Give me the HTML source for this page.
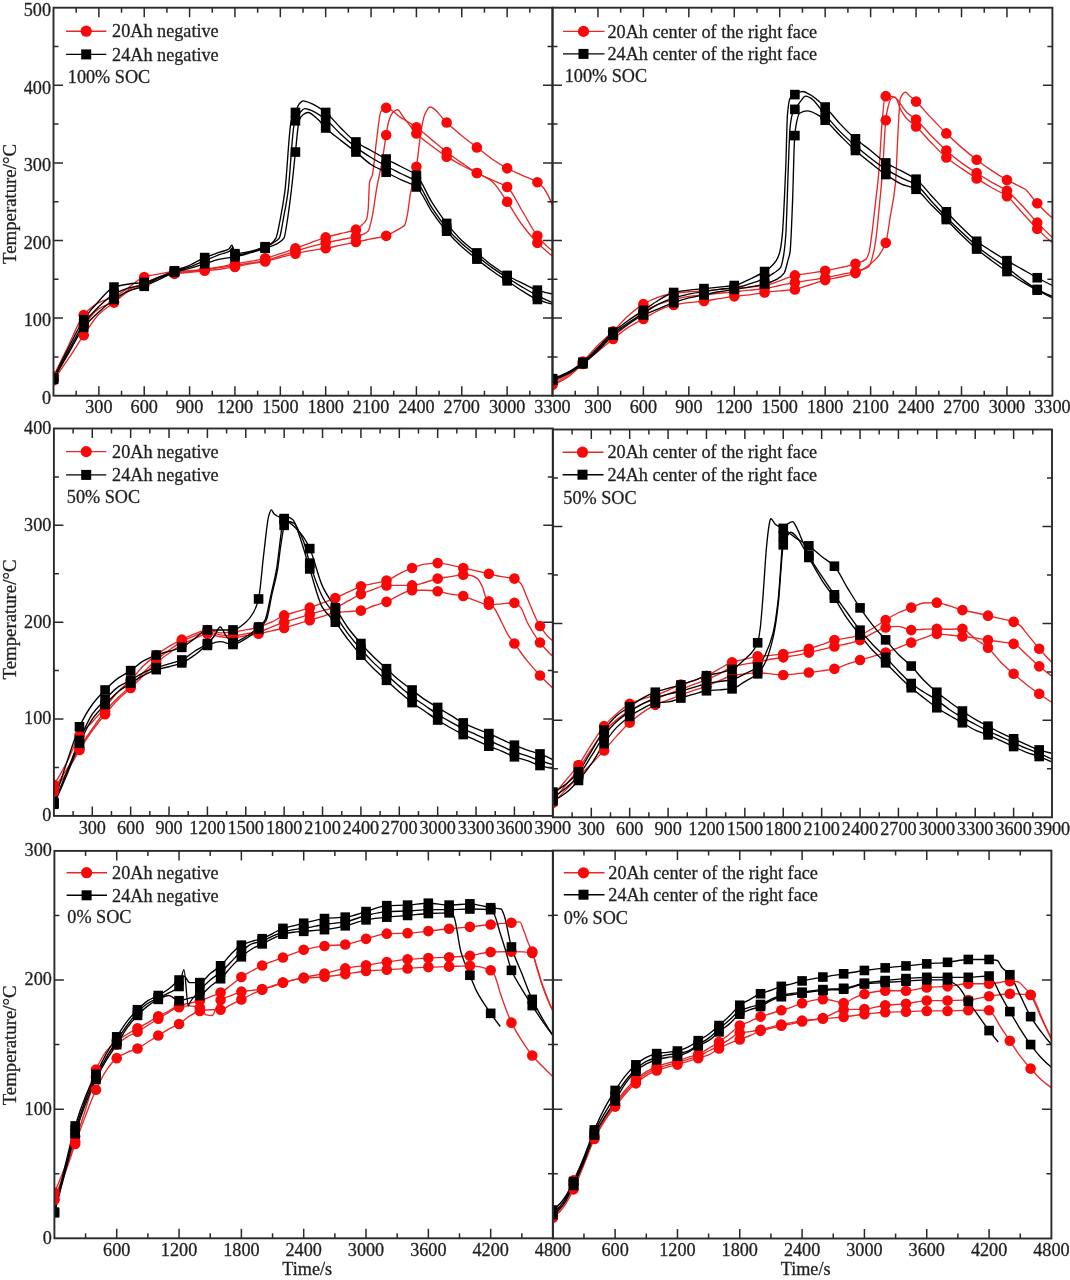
<!DOCTYPE html>
<html><head><meta charset="utf-8"><title>Temperature curves</title>
<style>
html,body{margin:0;padding:0;background:#fff;}
body{width:1070px;height:1280px;overflow:hidden;}
svg{display:block;will-change:transform;}
text{font-family:"Liberation Serif", serif;font-size:18.2px;fill:#1e1e1e;stroke:#2a2a2a;stroke-width:0.3px;}
</style></head><body>
<svg width="1070" height="1280" viewBox="0 0 1070 1280">
<rect width="1070" height="1280" fill="#fff"/>
<clipPath id="cP1"><rect x="53.5" y="7.7" width="499" height="388"/></clipPath>
<g clip-path="url(#cP1)">
<path d="M53.5 376.3C58.54 365.82 63.58 355.48 68.62 345.26C73.66 335.04 78.7 320.87 83.74 315C88.78 309.13 93.82 305.1 98.86 302.58C103.9 300.06 108.94 299.5 113.98 297.15C119.03 294.79 124.07 290.42 129.11 287.06C134.15 283.7 139.19 278.55 144.23 276.97C149.27 275.39 154.31 274.75 159.35 273.87C164.39 272.98 169.43 271.93 174.47 271.54C179.51 271.15 184.55 271.11 189.59 270.76C194.63 270.42 199.67 269.83 204.71 269.21C209.75 268.59 214.79 267.77 219.83 266.88C224.87 266 229.91 264.67 234.95 263.78C239.99 262.89 245.04 262.34 250.08 261.45C255.12 260.57 260.16 259.59 265.2 258.35C270.24 257.11 275.28 255.36 280.32 253.69C285.36 252.02 290.4 250.07 295.44 248.26C300.48 246.45 305.52 244.64 310.56 242.83C315.6 241.02 320.64 238.9 325.68 237.4C330.72 235.89 335.76 234.81 340.8 233.52C345.84 232.22 350.88 231.73 355.92 229.64C357.94 228.8 359.96 226.89 361.97 224.98C363.48 223.55 365 222.92 366.51 219.55C367.06 218.31 367.62 214.71 368.17 209.46C368.63 205.16 369.08 184.56 369.53 182.3C370.44 177.79 371.35 178.72 372.26 175.32C373.72 169.84 375.18 150.27 376.64 139.62C378.05 129.34 379.46 113.6 380.87 111.68C382.64 109.28 384.4 107.8 386.17 107.8C391.21 107.8 396.25 114.66 401.29 117.89C406.33 121.12 411.37 123.66 416.41 127.2C421.45 130.75 426.49 135.48 431.53 139.62C436.57 143.76 441.61 148.17 446.65 152.04C451.69 155.9 456.73 159.41 461.77 162.9C466.81 166.39 471.85 170.24 476.89 172.99C481.93 175.74 486.97 177.64 492.02 179.97C497.06 182.3 502.1 183.35 507.14 186.96C512.18 190.56 517.22 202.87 522.26 211.01C527.3 219.16 532.34 229.68 537.38 235.84C542.42 242.01 547.46 247.35 552.5 250.59" fill="none" stroke="#e62828" stroke-width="1.35" stroke-linejoin="round"/>
<path d="M53.5 378.63C58.54 370.35 63.58 361.81 68.62 353.02C73.66 344.23 78.7 332.85 83.74 325.86C88.78 318.87 93.82 312.09 98.86 308.79C103.9 305.48 108.94 304.78 113.98 301.8C119.03 298.82 124.07 292.15 129.11 289.39C134.15 286.63 139.19 285.25 144.23 283.18C149.27 281.11 154.31 278.56 159.35 276.97C164.39 275.38 169.43 273.83 174.47 273.09C179.51 272.35 184.55 272.06 189.59 271.54C194.63 271.02 199.67 270.61 204.71 269.99C209.75 269.37 214.79 268.44 219.83 267.66C224.87 266.88 229.91 266.11 234.95 265.33C239.99 264.56 245.04 263.78 250.08 263C255.12 262.23 260.16 261.71 265.2 260.68C270.24 259.64 275.28 257.57 280.32 256.02C285.36 254.47 290.4 252.92 295.44 251.36C300.48 249.81 305.52 248.12 310.56 246.71C315.6 245.3 320.64 243.98 325.68 242.83C330.72 241.68 335.76 240.76 340.8 239.72C345.84 238.69 350.88 238.06 355.92 236.62C359.96 235.47 363.99 234.85 368.02 231.19C369.43 229.91 370.84 222.79 372.26 216.44C373.72 209.87 375.18 196.73 376.64 188.51C378.51 178.02 380.37 171.2 382.24 160.57C383.55 153.11 384.86 142.7 386.17 134.96C386.92 130.5 387.68 125.2 388.43 122.55C389.69 118.13 390.96 114.57 392.22 113.24C394.03 111.32 395.84 109.74 397.66 109.74C399.37 109.74 401.09 114.16 402.8 116.34C407.34 122.1 411.87 128.89 416.41 133.41C421.45 138.43 426.49 141.97 431.53 145.83C436.57 149.69 441.61 153.51 446.65 156.69C451.69 159.88 456.73 162.52 461.77 165.23C466.81 167.94 471.85 170.28 476.89 172.99C481.93 175.7 486.97 177.53 492.02 181.52C497.06 185.52 502.1 194.49 507.14 201.7C512.18 208.91 517.22 218.24 522.26 224.98C527.3 231.72 532.34 237.77 537.38 242.83C542.42 247.88 547.46 252.4 552.5 256.02" fill="none" stroke="#e62828" stroke-width="1.35" stroke-linejoin="round"/>
<path d="M53.5 380.18C58.54 373.2 63.58 365.94 68.62 358.45C73.66 350.96 78.7 342.52 83.74 335.17C88.78 327.82 93.82 319.21 98.86 314.22C103.9 309.23 108.94 306.46 113.98 302.58C119.03 298.7 124.07 293.64 129.11 290.94C134.15 288.24 139.19 286.92 144.23 284.73C149.27 282.54 154.31 279.41 159.35 277.75C164.39 276.09 169.43 274.61 174.47 273.87C179.51 273.13 184.55 272.83 189.59 272.32C194.63 271.8 199.67 271.28 204.71 270.76C209.75 270.25 214.79 269.83 219.83 269.21C224.87 268.59 229.91 267.77 234.95 266.88C239.99 266 245.04 264.67 250.08 263.78C255.12 262.89 260.16 262.42 265.2 261.45C270.24 260.48 275.28 258.87 280.32 257.57C285.36 256.28 290.4 254.84 295.44 253.69C300.48 252.54 305.52 251.47 310.56 250.59C315.6 249.7 320.64 249.15 325.68 248.26C330.72 247.37 335.76 246.19 340.8 245.16C345.84 244.12 350.88 243.09 355.92 242.05C360.96 241.02 366.01 239.98 371.05 238.95C376.09 237.91 381.13 237.4 386.17 235.84C388.69 235.07 391.21 233.33 393.73 231.96C396 230.74 398.26 229.55 400.53 228.08C401.94 227.17 403.35 226.82 404.77 224.98C405.67 223.8 406.58 218.72 407.49 214.12C408.45 209.25 409.4 199.23 410.36 193.94C411.27 188.93 412.18 185.6 413.08 181.52C414.19 176.54 415.3 172.93 416.41 166.78C417.92 158.39 419.43 140.58 420.95 131.86C422.1 125.18 423.26 118.34 424.42 115.56C426.29 111.09 428.15 107.03 430.02 107.03C435.56 107.03 441.11 117.55 446.65 122.55C451.69 127.09 456.73 131.62 461.77 135.74C466.81 139.86 471.85 143.5 476.89 147.38C481.93 151.26 486.97 155.57 492.02 159.02C497.06 162.47 502.1 165.67 507.14 168.33C512.18 170.99 517.22 172.99 522.26 175.32C527.3 177.64 532.34 179.08 537.38 182.3C539.39 183.59 541.41 185.31 543.43 187.73C546.45 191.37 549.48 197.69 552.5 205.58" fill="none" stroke="#e62828" stroke-width="1.35" stroke-linejoin="round"/>
<path d="M53.5 377.85C58.54 367.38 63.58 357.27 68.62 347.59C73.66 337.9 78.7 327.1 83.74 319.65C88.78 312.2 93.82 306.35 98.86 301.03C103.9 295.71 108.94 288.75 113.98 287.06C119.03 285.37 124.07 284.65 129.11 283.96C134.15 283.27 139.19 283.21 144.23 282.4C149.27 281.6 154.31 278.9 159.35 276.97C164.39 275.04 169.43 272.7 174.47 270.76C179.51 268.83 184.55 267.46 189.59 265.33C194.63 263.2 199.67 259.7 204.71 257.57C209.75 255.44 214.79 253.9 219.83 252.14C222.86 251.08 225.88 250.84 228.91 249.04C229.91 248.43 230.92 245.16 231.93 245.16C232.94 245.16 233.95 253.69 234.95 253.69C239.99 253.69 245.04 252.4 250.08 251.36C255.12 250.33 260.16 248.72 265.2 246.71C267.21 245.9 269.23 245.06 271.25 243.6C272.81 242.47 274.37 241.06 275.93 238.17C277.39 235.47 278.86 226.2 280.32 218.77C281.83 211.08 283.34 203.19 284.85 191.61C286.97 175.41 289.09 127.9 291.21 121C292.62 116.39 294.03 115.47 295.44 112.46C296.7 109.77 297.96 105.4 299.22 103.92C300.53 102.39 301.84 100.82 303.15 100.82C305.62 100.82 308.09 102.16 310.56 103.15C315.6 105.17 320.64 108.58 325.68 112.46C330.72 116.34 335.76 123.08 340.8 127.98C345.84 132.88 350.88 138.42 355.92 141.95C360.96 145.48 366.01 147.64 371.05 150.48C376.09 153.33 381.13 156.31 386.17 159.02C391.21 161.73 396.25 164.07 401.29 166.78C406.33 169.49 411.37 171.02 416.41 175.32C421.45 179.62 426.49 193.76 431.53 201.7C436.57 209.64 441.61 217.05 446.65 223.43C451.69 229.8 456.73 235.71 461.77 240.5C466.81 245.29 471.85 248.78 476.89 252.92C481.93 257.05 486.97 261.62 492.02 265.33C497.06 269.04 502.1 272.5 507.14 275.42C512.18 278.34 517.22 280.73 522.26 283.18C527.3 285.63 532.34 288.5 537.38 290.16C542.42 291.83 547.46 293.27 552.5 294.04" fill="none" stroke="#000000" stroke-width="1.35" stroke-linejoin="round"/>
<path d="M53.5 378.63C58.54 369.19 63.58 359.87 68.62 350.69C73.66 341.51 78.7 330.52 83.74 323.53C88.78 316.54 93.82 311.25 98.86 306.46C103.9 301.67 108.94 296.8 113.98 294.04C119.03 291.28 124.07 289.22 129.11 287.84C134.15 286.46 139.19 286.16 144.23 284.73C149.27 283.3 154.31 279.94 159.35 277.75C164.39 275.56 169.43 273.31 174.47 271.54C179.51 269.77 184.55 268.66 189.59 266.88C194.63 265.11 199.67 262.75 204.71 260.68C209.75 258.61 214.79 256.41 219.83 254.47C223.36 253.11 226.89 252.92 230.42 250.59C231.17 250.09 231.93 247.48 232.69 247.48C233.44 247.48 234.2 255.24 234.95 255.24C239.99 255.24 245.04 253.38 250.08 252.14C255.12 250.9 260.16 249.59 265.2 247.48C268.22 246.22 271.25 244.12 274.27 242.05C275.93 240.91 277.6 240.45 279.26 238.17C280.62 236.31 281.98 225.86 283.34 218.77C284.9 210.63 286.47 203.27 288.03 191.61C290.1 176.2 292.16 131.28 294.23 124.1C295.14 120.95 296.04 119.64 296.95 117.89C298.21 115.46 299.47 113.03 300.73 111.68C302.04 110.28 303.35 108.58 304.66 108.58C306.63 108.58 308.59 109.45 310.56 110.13C315.6 111.89 320.64 115.64 325.68 119.44C330.72 123.25 335.76 129.55 340.8 134.19C345.84 138.83 350.88 143.57 355.92 147.38C360.96 151.19 366.01 154.39 371.05 157.47C376.09 160.55 381.13 163.29 386.17 166C391.21 168.71 396.25 171.18 401.29 173.76C406.33 176.35 411.37 177.55 416.41 181.52C421.45 185.49 426.49 199.45 431.53 207.13C436.57 214.81 441.61 222.14 446.65 228.08C451.69 234.03 456.73 239.01 461.77 243.6C466.81 248.2 471.85 252.01 476.89 256.02C481.93 260.03 486.97 264.06 492.02 267.66C497.06 271.26 502.1 274.52 507.14 277.75C512.18 280.98 517.22 284.09 522.26 287.06C527.3 290.03 532.34 293.04 537.38 295.6C542.42 298.16 547.46 300.51 552.5 302.58" fill="none" stroke="#000000" stroke-width="1.35" stroke-linejoin="round"/>
<path d="M53.5 379.4C58.54 370.48 63.58 361.68 68.62 353.02C73.66 344.36 78.7 333.85 83.74 327.41C88.78 320.97 93.82 316.49 98.86 311.89C103.9 307.29 108.94 302.85 113.98 299.48C119.03 296.1 124.07 292.95 129.11 290.94C134.15 288.93 139.19 288.15 144.23 286.28C149.27 284.42 154.31 281.63 159.35 279.3C164.39 276.97 169.43 273.98 174.47 272.32C179.51 270.65 184.55 269.85 189.59 268.44C194.63 267.03 199.67 265.33 204.71 263.78C209.75 262.23 214.79 260.16 219.83 259.12C224.87 258.09 229.91 257.77 234.95 256.8C239.99 255.83 245.04 254.33 250.08 252.92C255.12 251.51 260.16 249.99 265.2 248.26C269.23 246.87 273.26 245.79 277.29 243.6C279.51 242.4 281.73 241.56 283.95 238.17C285.16 236.33 286.37 226.32 287.58 218.77C288.79 211.23 290 201.64 291.21 191.61C292.62 179.91 294.03 164.63 295.44 152.04C296.65 141.24 297.86 124.25 299.07 121C300.38 117.47 301.69 115.77 303 114.79C304.61 113.58 306.23 112.46 307.84 112.46C311.27 112.46 314.69 116.5 318.12 119.44C320.64 121.61 323.16 125.54 325.68 127.98C330.72 132.86 335.76 136.39 340.8 140.4C345.84 144.4 350.88 148.03 355.92 152.04C360.96 156.04 366.01 161.27 371.05 164.45C376.09 167.64 381.13 169.63 386.17 172.21C391.21 174.8 396.25 177.52 401.29 179.97C406.33 182.42 411.37 183.35 416.41 186.96C421.45 190.56 426.49 203.7 431.53 211.01C436.57 218.33 441.61 225.34 446.65 231.19C451.69 237.04 456.73 242.11 461.77 246.71C466.81 251.31 471.85 255.12 476.89 259.12C481.93 263.13 486.97 267.16 492.02 270.76C497.06 274.37 502.1 277.49 507.14 280.85C512.18 284.21 517.22 287.86 522.26 290.94C527.3 294.02 532.34 297.47 537.38 299.48C542.42 301.48 547.46 303.23 552.5 304.13" fill="none" stroke="#000000" stroke-width="1.35" stroke-linejoin="round"/>
<circle cx="53.5" cy="376.3" r="5.3" fill="#f80808"/>
<circle cx="83.74" cy="315" r="5.3" fill="#f80808"/>
<circle cx="113.98" cy="297.15" r="5.3" fill="#f80808"/>
<circle cx="144.23" cy="276.97" r="5.3" fill="#f80808"/>
<circle cx="174.47" cy="271.54" r="5.3" fill="#f80808"/>
<circle cx="204.71" cy="269.21" r="5.3" fill="#f80808"/>
<circle cx="234.95" cy="263.78" r="5.3" fill="#f80808"/>
<circle cx="265.2" cy="258.35" r="5.3" fill="#f80808"/>
<circle cx="295.44" cy="248.26" r="5.3" fill="#f80808"/>
<circle cx="325.68" cy="237.4" r="5.3" fill="#f80808"/>
<circle cx="355.92" cy="229.64" r="5.3" fill="#f80808"/>
<circle cx="386.17" cy="107.8" r="5.3" fill="#f80808"/>
<circle cx="416.41" cy="127.2" r="5.3" fill="#f80808"/>
<circle cx="446.65" cy="152.04" r="5.3" fill="#f80808"/>
<circle cx="476.89" cy="172.99" r="5.3" fill="#f80808"/>
<circle cx="507.14" cy="186.96" r="5.3" fill="#f80808"/>
<circle cx="537.38" cy="235.84" r="5.3" fill="#f80808"/>
<circle cx="53.5" cy="378.63" r="5.3" fill="#f80808"/>
<circle cx="83.74" cy="325.86" r="5.3" fill="#f80808"/>
<circle cx="113.98" cy="301.8" r="5.3" fill="#f80808"/>
<circle cx="144.23" cy="283.18" r="5.3" fill="#f80808"/>
<circle cx="174.47" cy="273.09" r="5.3" fill="#f80808"/>
<circle cx="204.71" cy="269.99" r="5.3" fill="#f80808"/>
<circle cx="234.95" cy="265.33" r="5.3" fill="#f80808"/>
<circle cx="265.2" cy="260.68" r="5.3" fill="#f80808"/>
<circle cx="295.44" cy="251.36" r="5.3" fill="#f80808"/>
<circle cx="325.68" cy="242.83" r="5.3" fill="#f80808"/>
<circle cx="355.92" cy="236.62" r="5.3" fill="#f80808"/>
<circle cx="386.17" cy="134.96" r="5.3" fill="#f80808"/>
<circle cx="416.41" cy="133.41" r="5.3" fill="#f80808"/>
<circle cx="446.65" cy="156.69" r="5.3" fill="#f80808"/>
<circle cx="476.89" cy="172.99" r="5.3" fill="#f80808"/>
<circle cx="507.14" cy="201.7" r="5.3" fill="#f80808"/>
<circle cx="537.38" cy="242.83" r="5.3" fill="#f80808"/>
<circle cx="53.5" cy="380.18" r="5.3" fill="#f80808"/>
<circle cx="83.74" cy="335.17" r="5.3" fill="#f80808"/>
<circle cx="113.98" cy="302.58" r="5.3" fill="#f80808"/>
<circle cx="144.23" cy="284.73" r="5.3" fill="#f80808"/>
<circle cx="174.47" cy="273.87" r="5.3" fill="#f80808"/>
<circle cx="204.71" cy="270.76" r="5.3" fill="#f80808"/>
<circle cx="234.95" cy="266.88" r="5.3" fill="#f80808"/>
<circle cx="265.2" cy="261.45" r="5.3" fill="#f80808"/>
<circle cx="295.44" cy="253.69" r="5.3" fill="#f80808"/>
<circle cx="325.68" cy="248.26" r="5.3" fill="#f80808"/>
<circle cx="355.92" cy="242.05" r="5.3" fill="#f80808"/>
<circle cx="386.17" cy="235.84" r="5.3" fill="#f80808"/>
<circle cx="416.41" cy="166.78" r="5.3" fill="#f80808"/>
<circle cx="446.65" cy="122.55" r="5.3" fill="#f80808"/>
<circle cx="476.89" cy="147.38" r="5.3" fill="#f80808"/>
<circle cx="507.14" cy="168.33" r="5.3" fill="#f80808"/>
<circle cx="537.38" cy="182.3" r="5.3" fill="#f80808"/>
<rect x="48.7" y="373.05" width="9.6" height="9.6" fill="#000000"/>
<rect x="78.94" y="314.85" width="9.6" height="9.6" fill="#000000"/>
<rect x="109.18" y="282.26" width="9.6" height="9.6" fill="#000000"/>
<rect x="139.43" y="277.6" width="9.6" height="9.6" fill="#000000"/>
<rect x="169.67" y="265.96" width="9.6" height="9.6" fill="#000000"/>
<rect x="199.91" y="252.77" width="9.6" height="9.6" fill="#000000"/>
<rect x="230.15" y="248.89" width="9.6" height="9.6" fill="#000000"/>
<rect x="260.4" y="241.91" width="9.6" height="9.6" fill="#000000"/>
<rect x="290.64" y="107.66" width="9.6" height="9.6" fill="#000000"/>
<rect x="320.88" y="107.66" width="9.6" height="9.6" fill="#000000"/>
<rect x="351.12" y="137.15" width="9.6" height="9.6" fill="#000000"/>
<rect x="381.37" y="154.22" width="9.6" height="9.6" fill="#000000"/>
<rect x="411.61" y="170.52" width="9.6" height="9.6" fill="#000000"/>
<rect x="441.85" y="218.63" width="9.6" height="9.6" fill="#000000"/>
<rect x="472.09" y="248.12" width="9.6" height="9.6" fill="#000000"/>
<rect x="502.34" y="270.62" width="9.6" height="9.6" fill="#000000"/>
<rect x="532.58" y="285.36" width="9.6" height="9.6" fill="#000000"/>
<rect x="48.7" y="373.83" width="9.6" height="9.6" fill="#000000"/>
<rect x="78.94" y="318.73" width="9.6" height="9.6" fill="#000000"/>
<rect x="109.18" y="289.24" width="9.6" height="9.6" fill="#000000"/>
<rect x="139.43" y="279.93" width="9.6" height="9.6" fill="#000000"/>
<rect x="169.67" y="266.74" width="9.6" height="9.6" fill="#000000"/>
<rect x="199.91" y="255.88" width="9.6" height="9.6" fill="#000000"/>
<rect x="230.15" y="250.44" width="9.6" height="9.6" fill="#000000"/>
<rect x="260.4" y="242.68" width="9.6" height="9.6" fill="#000000"/>
<rect x="290.64" y="115.99" width="9.6" height="9.6" fill="#000000"/>
<rect x="320.88" y="114.64" width="9.6" height="9.6" fill="#000000"/>
<rect x="351.12" y="142.58" width="9.6" height="9.6" fill="#000000"/>
<rect x="381.37" y="161.2" width="9.6" height="9.6" fill="#000000"/>
<rect x="411.61" y="176.72" width="9.6" height="9.6" fill="#000000"/>
<rect x="441.85" y="223.28" width="9.6" height="9.6" fill="#000000"/>
<rect x="472.09" y="251.22" width="9.6" height="9.6" fill="#000000"/>
<rect x="502.34" y="272.95" width="9.6" height="9.6" fill="#000000"/>
<rect x="532.58" y="290.8" width="9.6" height="9.6" fill="#000000"/>
<rect x="48.7" y="374.6" width="9.6" height="9.6" fill="#000000"/>
<rect x="78.94" y="322.61" width="9.6" height="9.6" fill="#000000"/>
<rect x="109.18" y="294.68" width="9.6" height="9.6" fill="#000000"/>
<rect x="139.43" y="281.48" width="9.6" height="9.6" fill="#000000"/>
<rect x="169.67" y="267.52" width="9.6" height="9.6" fill="#000000"/>
<rect x="199.91" y="258.98" width="9.6" height="9.6" fill="#000000"/>
<rect x="230.15" y="252" width="9.6" height="9.6" fill="#000000"/>
<rect x="260.4" y="243.46" width="9.6" height="9.6" fill="#000000"/>
<rect x="290.64" y="147.24" width="9.6" height="9.6" fill="#000000"/>
<rect x="320.88" y="123.18" width="9.6" height="9.6" fill="#000000"/>
<rect x="351.12" y="147.24" width="9.6" height="9.6" fill="#000000"/>
<rect x="381.37" y="167.41" width="9.6" height="9.6" fill="#000000"/>
<rect x="411.61" y="182.16" width="9.6" height="9.6" fill="#000000"/>
<rect x="441.85" y="226.39" width="9.6" height="9.6" fill="#000000"/>
<rect x="472.09" y="254.32" width="9.6" height="9.6" fill="#000000"/>
<rect x="502.34" y="276.05" width="9.6" height="9.6" fill="#000000"/>
<rect x="532.58" y="294.68" width="9.6" height="9.6" fill="#000000"/>
</g>
<path d="M76.18 395.7V390.7M76.18 7.7V12.7M98.86 395.7V386.2M98.86 7.7V17.2M121.55 395.7V390.7M121.55 7.7V12.7M144.23 395.7V386.2M144.23 7.7V17.2M166.91 395.7V390.7M166.91 7.7V12.7M189.59 395.7V386.2M189.59 7.7V17.2M212.27 395.7V390.7M212.27 7.7V12.7M234.95 395.7V386.2M234.95 7.7V17.2M257.64 395.7V390.7M257.64 7.7V12.7M280.32 395.7V386.2M280.32 7.7V17.2M303 395.7V390.7M303 7.7V12.7M325.68 395.7V386.2M325.68 7.7V17.2M348.36 395.7V390.7M348.36 7.7V12.7M371.05 395.7V386.2M371.05 7.7V17.2M393.73 395.7V390.7M393.73 7.7V12.7M416.41 395.7V386.2M416.41 7.7V17.2M439.09 395.7V390.7M439.09 7.7V12.7M461.77 395.7V386.2M461.77 7.7V17.2M484.45 395.7V390.7M484.45 7.7V12.7M507.14 395.7V386.2M507.14 7.7V17.2M529.82 395.7V390.7M529.82 7.7V12.7M53.5 356.9H58.5M552.5 356.9H547.5M53.5 318.1H63M552.5 318.1H543M53.5 279.3H58.5M552.5 279.3H547.5M53.5 240.5H63M552.5 240.5H543M53.5 201.7H58.5M552.5 201.7H547.5M53.5 162.9H63M552.5 162.9H543M53.5 124.1H58.5M552.5 124.1H547.5M53.5 85.3H63M552.5 85.3H543M53.5 46.5H58.5M552.5 46.5H547.5" stroke="#2a2a2a" stroke-width="1.5" fill="none"/>
<rect x="53.5" y="7.7" width="499" height="388" fill="none" stroke="#2a2a2a" stroke-width="1.9"/>
<text x="98.86" y="413.4" text-anchor="middle">300</text>
<text x="144.23" y="413.4" text-anchor="middle">600</text>
<text x="189.59" y="413.4" text-anchor="middle">900</text>
<text x="234.95" y="413.4" text-anchor="middle">1200</text>
<text x="280.32" y="413.4" text-anchor="middle">1500</text>
<text x="325.68" y="413.4" text-anchor="middle">1800</text>
<text x="371.05" y="413.4" text-anchor="middle">2100</text>
<text x="416.41" y="413.4" text-anchor="middle">2400</text>
<text x="461.77" y="413.4" text-anchor="middle">2700</text>
<text x="507.14" y="413.4" text-anchor="middle">3000</text>
<text x="552.5" y="413.4" text-anchor="middle">3300</text>
<text x="51" y="403.9" text-anchor="end">0</text>
<text x="51" y="326.3" text-anchor="end">100</text>
<text x="51" y="248.7" text-anchor="end">200</text>
<text x="51" y="171.1" text-anchor="end">300</text>
<text x="51" y="93.5" text-anchor="end">400</text>
<text x="51" y="15.9" text-anchor="end">500</text>
<text x="0" y="0" text-anchor="middle" style="font-size:18.8px" transform="translate(16 204) rotate(-90)">Temperature/°C</text>
<path d="M66.1 31.2H106.3" stroke="#e62828" stroke-width="1.4"/>
<circle cx="86.2" cy="31.2" r="5.6" fill="#f80808"/>
<text x="112.1" y="37.4">20Ah negative</text>
<path d="M66.1 54.4H106.3" stroke="#000000" stroke-width="1.4"/>
<rect x="81.2" y="49.4" width="10" height="10" fill="#000000"/>
<text x="112.1" y="60.6">24Ah negative</text>
<text x="67.8" y="82.6">100% SOC</text>
<clipPath id="cP2"><rect x="552.5" y="7.7" width="499.9" height="388"/></clipPath>
<g clip-path="url(#cP2)">
<path d="M552.5 381.73C557.55 379.92 562.6 377.16 567.65 373.97C572.7 370.79 577.75 366.25 582.8 361.56C587.85 356.86 592.9 350.27 597.95 345.26C602.99 340.25 608.04 336.19 613.09 331.29C618.14 326.39 623.19 320.21 628.24 315.77C633.29 311.34 638.34 307.04 643.39 304.13C648.44 301.22 653.49 298.81 658.54 297.15C663.59 295.49 668.64 294.01 673.69 293.27C678.74 292.53 683.79 292.06 688.84 291.72C693.89 291.37 698.94 291.28 703.98 290.94C709.03 290.6 714.08 289.91 719.13 289.39C724.18 288.87 729.23 288.18 734.28 287.84C739.33 287.49 744.38 287.4 749.43 287.06C754.48 286.72 759.53 286.28 764.58 285.51C769.63 284.73 774.68 282.52 779.73 280.85C784.78 279.18 789.83 276.51 794.88 275.42C799.93 274.33 804.97 273.87 810.02 273.09C815.07 272.32 820.12 271.65 825.17 270.76C830.22 269.88 835.27 268.81 840.32 267.66C845.37 266.51 850.42 265.44 855.47 263.78C859 262.62 862.54 262.11 866.07 259.12C867.08 258.27 868.09 255.63 869.1 252.14C869.81 249.7 870.52 243.94 871.22 238.95C872.54 229.67 873.85 217.18 875.16 205.58C876.43 194.43 877.69 185.35 878.95 170.66C879.96 158.91 880.97 135.41 881.98 124.1C883.04 112.22 884.1 96.16 885.16 96.16C886.88 96.16 888.59 96.16 890.31 96.16C892.33 96.16 894.35 97.25 896.37 98.49C897.89 99.43 899.4 102.67 900.92 104.7C902.88 107.34 904.85 110.53 906.82 112.46C909.9 115.48 912.98 116.75 916.06 119.44C921.11 123.86 926.16 130.58 931.21 135.74C936.26 140.9 941.31 145.99 946.36 150.48C951.41 154.98 956.46 159.19 961.51 162.9C966.56 166.61 971.61 169.76 976.66 172.99C981.71 176.22 986.76 179.33 991.81 182.3C996.86 185.27 1001.91 187.23 1006.95 190.84C1012 194.44 1017.05 200.31 1022.1 205.58C1027.15 210.85 1032.2 217.38 1037.25 222.65C1042.3 227.93 1047.35 232.87 1052.4 237.4" fill="none" stroke="#e62828" stroke-width="1.35" stroke-linejoin="round"/>
<path d="M552.5 384.06C557.55 381.86 562.6 378.9 567.65 375.52C572.7 372.15 577.75 367.49 582.8 363.11C587.85 358.73 592.9 353.52 597.95 349.14C602.99 344.76 608.04 340.86 613.09 336.72C618.14 332.59 623.19 328.45 628.24 324.31C633.29 320.17 638.34 315.08 643.39 311.89C648.44 308.71 653.49 306.07 658.54 304.13C663.59 302.19 668.64 300.72 673.69 299.48C678.74 298.23 683.79 297.06 688.84 296.37C693.89 295.68 698.94 295.34 703.98 294.82C709.03 294.3 714.08 293.79 719.13 293.27C724.18 292.75 729.23 292.23 734.28 291.72C739.33 291.2 744.38 290.68 749.43 290.16C754.48 289.65 759.53 289.3 764.58 288.61C769.63 287.92 774.68 286.54 779.73 285.51C784.78 284.47 789.83 283.29 794.88 282.4C799.93 281.52 804.97 280.85 810.02 280.08C815.07 279.3 820.12 278.63 825.17 277.75C830.22 276.86 835.27 275.68 840.32 274.64C845.37 273.61 850.42 272.91 855.47 271.54C860.01 270.3 864.56 269.79 869.1 266.11C870.62 264.88 872.13 258.44 873.65 252.14C874.41 248.99 875.16 244.33 875.92 238.95C877.08 230.69 878.24 217.47 879.4 205.58C880.46 194.72 881.53 184.42 882.59 170.66C883.65 156.9 884.71 129.01 885.77 120.22C886.52 113.94 887.28 109.95 888.04 107.03C889.05 103.13 890.06 99.24 891.07 98.49C892.33 97.56 893.59 96.94 894.86 96.94C896.88 96.94 898.9 106.63 900.92 110.13C902.88 113.55 904.85 116.53 906.82 118.67C909.9 122 912.98 123.55 916.06 126.43C921.11 131.14 926.16 137.56 931.21 142.72C936.26 147.88 941.31 153.3 946.36 157.47C951.41 161.64 956.46 164.84 961.51 168.33C966.56 171.82 971.61 175.19 976.66 178.42C981.71 181.65 986.76 184.76 991.81 187.73C996.86 190.7 1001.91 192.53 1006.95 196.27C1012 200 1017.05 207.13 1022.1 212.56C1027.15 218 1032.2 223.85 1037.25 228.86C1042.3 233.87 1047.35 238.56 1052.4 242.83" fill="none" stroke="#e62828" stroke-width="1.35" stroke-linejoin="round"/>
<path d="M552.5 384.84C557.55 383.15 562.6 380.33 567.65 377.08C572.7 373.82 577.75 368.15 582.8 363.88C587.85 359.62 592.9 355.61 597.95 351.47C602.99 347.33 608.04 343.06 613.09 339.05C618.14 335.05 623.19 330.7 628.24 327.41C633.29 324.13 638.34 321.72 643.39 318.88C648.44 316.03 653.49 312.55 658.54 310.34C663.59 308.13 668.64 305.99 673.69 304.91C678.74 303.82 683.79 303.2 688.84 302.58C693.89 301.96 698.94 301.65 703.98 301.03C709.03 300.41 714.08 299.48 719.13 298.7C724.18 297.92 729.23 296.99 734.28 296.37C739.33 295.75 744.38 295.44 749.43 294.82C754.48 294.2 759.53 293.11 764.58 292.49C769.63 291.87 774.68 291.46 779.73 290.94C784.78 290.42 789.83 290.16 794.88 289.39C799.93 288.61 804.97 286.28 810.02 284.73C815.07 283.18 820.12 281.32 825.17 280.08C830.22 278.83 835.27 278.12 840.32 276.97C845.37 275.82 850.42 274.92 855.47 273.09C860.52 271.27 865.57 268.08 870.62 263.78C875.67 259.48 880.72 255.56 885.77 242.83C887.23 239.14 888.7 226.17 890.16 217.22C891.93 206.42 893.69 201.35 895.46 183.08C896.32 174.2 897.18 146.32 898.04 131.86C898.79 119.1 899.55 100.39 900.31 98.49C902.03 94.2 903.74 92.28 905.46 92.28C906.97 92.28 908.49 94.84 910 96.16C912.02 97.93 914.04 99.65 916.06 101.6C921.11 106.47 926.16 112.59 931.21 117.89C936.26 123.19 941.31 128.51 946.36 133.41C951.41 138.31 956.46 143 961.51 147.38C966.56 151.76 971.61 155.93 976.66 159.8C981.71 163.66 986.76 167.32 991.81 170.66C996.86 174 1001.91 177.17 1006.95 179.97C1009.98 181.65 1013.01 183.08 1016.04 184.63C1019.07 186.18 1022.1 187.13 1025.13 189.28C1027.66 191.08 1030.18 194.88 1032.71 197.82C1034.22 199.58 1035.74 201.6 1037.25 203.25C1042.3 208.77 1047.35 213.94 1052.4 218" fill="none" stroke="#e62828" stroke-width="1.35" stroke-linejoin="round"/>
<path d="M552.5 378.63C557.55 377.21 562.6 374.98 567.65 372.42C572.7 369.86 577.75 366.33 582.8 362.33C587.85 358.34 592.9 352.63 597.95 347.59C602.99 342.55 608.04 336.5 613.09 332.07C618.14 327.63 623.19 324.03 628.24 320.43C633.29 316.83 638.34 313.7 643.39 310.34C648.44 306.98 653.49 303.18 658.54 300.25C663.59 297.33 668.64 293.69 673.69 292.49C678.74 291.3 683.79 290.78 688.84 290.16C693.89 289.54 698.94 289.13 703.98 288.61C709.03 288.09 714.08 287.58 719.13 287.06C724.18 286.54 729.23 286.34 734.28 285.51C739.33 284.68 744.38 281.6 749.43 279.3C754.48 277 759.53 274.74 764.58 271.54C766.6 270.26 768.62 268.72 770.64 266.88C772.51 265.18 774.37 263.61 776.24 260.68C777.4 258.85 778.57 256.39 779.73 252.14C780.59 249 781.44 243.39 782.3 235.07C783.46 223.81 784.63 194.72 785.79 166C786.34 152.27 786.9 120.91 787.45 114.79C788.31 105.33 789.17 99.82 790.03 98.49C791.64 96 793.26 95.51 794.88 94.61C797.4 93.21 799.93 91.51 802.45 91.51C804.97 91.51 807.5 93.28 810.02 94.61C815.07 97.27 820.12 102.24 825.17 107.03C830.22 111.82 835.27 118.83 840.32 124.1C845.37 129.37 850.42 134.51 855.47 138.84C860.52 143.18 865.57 146.48 870.62 150.48C875.67 154.49 880.72 159.72 885.77 162.9C890.82 166.08 895.87 167.95 900.92 170.66C905.96 173.37 911.01 175.46 916.06 179.2C921.11 182.93 926.16 190.06 931.21 195.49C936.26 200.92 941.31 206.49 946.36 211.79C951.41 217.09 956.46 222.41 961.51 227.31C966.56 232.21 971.61 237.37 976.66 241.28C981.71 245.18 986.76 248.14 991.81 251.36C996.86 254.59 1001.91 257.71 1006.95 260.68C1012 263.65 1017.05 266.37 1022.1 269.21C1027.15 272.06 1032.2 275.04 1037.25 277.75C1042.3 280.46 1047.35 283.05 1052.4 285.51" fill="none" stroke="#000000" stroke-width="1.35" stroke-linejoin="round"/>
<path d="M552.5 379.4C557.55 377.98 562.6 375.76 567.65 373.2C572.7 370.63 577.75 367.01 582.8 363.11C587.85 359.2 592.9 354.04 597.95 349.14C602.99 344.24 608.04 337.88 613.09 333.62C618.14 329.36 623.19 326.1 628.24 322.76C633.29 319.41 638.34 316.55 643.39 313.44C648.44 310.34 653.49 306.62 658.54 304.13C663.59 301.65 668.64 299.52 673.69 297.92C678.74 296.33 683.79 295.01 688.84 294.04C693.89 293.07 698.94 292.49 703.98 291.72C709.03 290.94 714.08 290.01 719.13 289.39C724.18 288.77 729.23 288.58 734.28 287.84C739.33 287.1 744.38 285.46 749.43 283.96C754.48 282.45 759.53 280.84 764.58 278.52C767.61 277.14 770.64 275.18 773.67 273.09C775.94 271.53 778.21 270.93 780.48 267.66C781.49 266.2 782.5 261.61 783.51 256.02C784.27 251.83 785.03 245.36 785.79 235.07C786.65 223.41 787.5 187.05 788.36 166C788.92 152.39 789.47 133.29 790.03 127.98C790.89 119.77 791.75 115.47 792.6 113.24C793.36 111.27 794.12 110.54 794.88 109.36C796.9 106.19 798.92 103.2 800.94 100.82C802.45 99.04 803.96 96.16 805.48 96.16C806.99 96.16 808.51 96.99 810.02 97.72C815.07 100.13 820.12 109.1 825.17 114.79C830.22 120.48 835.27 126.74 840.32 131.86C845.37 136.98 850.42 141.45 855.47 145.83C860.52 150.21 865.57 154.38 870.62 158.24C875.67 162.11 880.72 165.92 885.77 169.11C890.82 172.29 895.87 175.08 900.92 177.64C905.96 180.2 911.01 181.37 916.06 184.63C921.11 187.89 926.16 195.49 931.21 200.92C936.26 206.36 941.31 212.06 946.36 217.22C951.41 222.38 956.46 227.18 961.51 231.96C966.56 236.75 971.61 241.7 976.66 245.93C981.71 250.16 986.76 253.97 991.81 257.57C996.86 261.17 1001.91 264.06 1006.95 267.66C1012 271.26 1017.05 275.7 1022.1 279.3C1027.15 282.9 1032.2 286.64 1037.25 289.39C1042.3 292.14 1047.35 294.56 1052.4 296.37" fill="none" stroke="#000000" stroke-width="1.35" stroke-linejoin="round"/>
<path d="M552.5 380.18C557.55 378.76 562.6 376.53 567.65 373.97C572.7 371.41 577.75 367.7 582.8 363.88C587.85 360.07 592.9 355.45 597.95 350.69C602.99 345.94 608.04 339.43 613.09 335.17C618.14 330.91 623.19 327.65 628.24 324.31C633.29 320.97 638.34 317.48 643.39 315C648.44 312.51 653.49 310.86 658.54 308.79C663.59 306.72 668.64 304.35 673.69 302.58C678.74 300.81 683.79 299.17 688.84 297.92C693.89 296.68 698.94 295.85 703.98 294.82C709.03 293.79 714.08 292.6 719.13 291.72C724.18 290.83 729.23 290.16 734.28 289.39C739.33 288.61 744.38 287.95 749.43 287.06C754.48 286.17 759.53 285.32 764.58 283.96C768.62 282.86 772.66 281.49 776.7 279.3C779.17 277.96 781.65 276.62 784.12 273.09C785.43 271.22 786.75 264.7 788.06 259.9C788.72 257.5 789.37 256.34 790.03 252.14C790.89 246.64 791.75 221.69 792.6 200.15C793.21 184.95 793.82 151.28 794.42 141.95C794.98 133.39 795.53 127.85 796.09 124.88C797.25 118.65 798.41 113.93 799.57 113.24C802.25 111.63 804.92 110.91 807.6 110.91C810.93 110.91 814.27 113.09 817.6 114.79C820.12 116.08 822.65 118.13 825.17 120.22C830.22 124.4 835.27 130.7 840.32 135.74C845.37 140.78 850.42 145.99 855.47 150.48C860.52 154.98 865.57 158.89 870.62 162.9C875.67 166.91 880.72 171.09 885.77 174.54C890.82 177.99 895.87 181.56 900.92 183.85C905.96 186.14 911.01 186.6 916.06 189.28C921.11 191.97 926.16 199.76 931.21 204.8C936.26 209.84 941.31 214.51 946.36 219.55C951.41 224.59 956.46 230.17 961.51 235.07C966.56 239.97 971.61 244.8 976.66 249.04C981.71 253.27 986.76 256.93 991.81 260.68C996.86 264.42 1001.91 268.05 1006.95 271.54C1012 275.03 1017.05 278.55 1022.1 281.63C1027.15 284.71 1032.2 287.45 1037.25 290.16C1042.3 292.87 1047.35 295.47 1052.4 297.92" fill="none" stroke="#000000" stroke-width="1.35" stroke-linejoin="round"/>
<circle cx="552.5" cy="381.73" r="5.3" fill="#f80808"/>
<circle cx="582.8" cy="361.56" r="5.3" fill="#f80808"/>
<circle cx="613.09" cy="331.29" r="5.3" fill="#f80808"/>
<circle cx="643.39" cy="304.13" r="5.3" fill="#f80808"/>
<circle cx="673.69" cy="293.27" r="5.3" fill="#f80808"/>
<circle cx="703.98" cy="290.94" r="5.3" fill="#f80808"/>
<circle cx="734.28" cy="287.84" r="5.3" fill="#f80808"/>
<circle cx="764.58" cy="285.51" r="5.3" fill="#f80808"/>
<circle cx="794.88" cy="275.42" r="5.3" fill="#f80808"/>
<circle cx="825.17" cy="270.76" r="5.3" fill="#f80808"/>
<circle cx="855.47" cy="263.78" r="5.3" fill="#f80808"/>
<circle cx="885.77" cy="96.16" r="5.3" fill="#f80808"/>
<circle cx="916.06" cy="119.44" r="5.3" fill="#f80808"/>
<circle cx="946.36" cy="150.48" r="5.3" fill="#f80808"/>
<circle cx="976.66" cy="172.99" r="5.3" fill="#f80808"/>
<circle cx="1006.95" cy="190.84" r="5.3" fill="#f80808"/>
<circle cx="1037.25" cy="222.65" r="5.3" fill="#f80808"/>
<circle cx="552.5" cy="384.06" r="5.3" fill="#f80808"/>
<circle cx="582.8" cy="363.11" r="5.3" fill="#f80808"/>
<circle cx="613.09" cy="336.72" r="5.3" fill="#f80808"/>
<circle cx="643.39" cy="311.89" r="5.3" fill="#f80808"/>
<circle cx="673.69" cy="299.48" r="5.3" fill="#f80808"/>
<circle cx="703.98" cy="294.82" r="5.3" fill="#f80808"/>
<circle cx="734.28" cy="291.72" r="5.3" fill="#f80808"/>
<circle cx="764.58" cy="288.61" r="5.3" fill="#f80808"/>
<circle cx="794.88" cy="282.4" r="5.3" fill="#f80808"/>
<circle cx="825.17" cy="277.75" r="5.3" fill="#f80808"/>
<circle cx="855.47" cy="271.54" r="5.3" fill="#f80808"/>
<circle cx="885.77" cy="120.22" r="5.3" fill="#f80808"/>
<circle cx="916.06" cy="126.43" r="5.3" fill="#f80808"/>
<circle cx="946.36" cy="157.47" r="5.3" fill="#f80808"/>
<circle cx="976.66" cy="178.42" r="5.3" fill="#f80808"/>
<circle cx="1006.95" cy="196.27" r="5.3" fill="#f80808"/>
<circle cx="1037.25" cy="228.86" r="5.3" fill="#f80808"/>
<circle cx="552.5" cy="384.84" r="5.3" fill="#f80808"/>
<circle cx="582.8" cy="363.88" r="5.3" fill="#f80808"/>
<circle cx="613.09" cy="339.05" r="5.3" fill="#f80808"/>
<circle cx="643.39" cy="318.88" r="5.3" fill="#f80808"/>
<circle cx="673.69" cy="304.91" r="5.3" fill="#f80808"/>
<circle cx="703.98" cy="301.03" r="5.3" fill="#f80808"/>
<circle cx="734.28" cy="296.37" r="5.3" fill="#f80808"/>
<circle cx="764.58" cy="292.49" r="5.3" fill="#f80808"/>
<circle cx="794.88" cy="289.39" r="5.3" fill="#f80808"/>
<circle cx="825.17" cy="280.08" r="5.3" fill="#f80808"/>
<circle cx="855.47" cy="273.09" r="5.3" fill="#f80808"/>
<circle cx="885.77" cy="242.83" r="5.3" fill="#f80808"/>
<circle cx="916.06" cy="101.6" r="5.3" fill="#f80808"/>
<circle cx="946.36" cy="133.41" r="5.3" fill="#f80808"/>
<circle cx="976.66" cy="159.8" r="5.3" fill="#f80808"/>
<circle cx="1006.95" cy="179.97" r="5.3" fill="#f80808"/>
<circle cx="1037.25" cy="203.25" r="5.3" fill="#f80808"/>
<rect x="547.7" y="373.83" width="9.6" height="9.6" fill="#000000"/>
<rect x="578" y="357.53" width="9.6" height="9.6" fill="#000000"/>
<rect x="608.29" y="327.27" width="9.6" height="9.6" fill="#000000"/>
<rect x="638.59" y="305.54" width="9.6" height="9.6" fill="#000000"/>
<rect x="668.89" y="287.69" width="9.6" height="9.6" fill="#000000"/>
<rect x="699.18" y="283.81" width="9.6" height="9.6" fill="#000000"/>
<rect x="729.48" y="280.71" width="9.6" height="9.6" fill="#000000"/>
<rect x="759.78" y="266.74" width="9.6" height="9.6" fill="#000000"/>
<rect x="790.08" y="89.81" width="9.6" height="9.6" fill="#000000"/>
<rect x="820.37" y="102.23" width="9.6" height="9.6" fill="#000000"/>
<rect x="850.67" y="134.04" width="9.6" height="9.6" fill="#000000"/>
<rect x="880.97" y="158.1" width="9.6" height="9.6" fill="#000000"/>
<rect x="911.26" y="174.4" width="9.6" height="9.6" fill="#000000"/>
<rect x="941.56" y="206.99" width="9.6" height="9.6" fill="#000000"/>
<rect x="971.86" y="236.48" width="9.6" height="9.6" fill="#000000"/>
<rect x="1002.15" y="255.88" width="9.6" height="9.6" fill="#000000"/>
<rect x="1032.45" y="272.95" width="9.6" height="9.6" fill="#000000"/>
<rect x="547.7" y="374.6" width="9.6" height="9.6" fill="#000000"/>
<rect x="578" y="358.31" width="9.6" height="9.6" fill="#000000"/>
<rect x="608.29" y="328.82" width="9.6" height="9.6" fill="#000000"/>
<rect x="638.59" y="308.64" width="9.6" height="9.6" fill="#000000"/>
<rect x="668.89" y="293.12" width="9.6" height="9.6" fill="#000000"/>
<rect x="699.18" y="286.92" width="9.6" height="9.6" fill="#000000"/>
<rect x="729.48" y="283.04" width="9.6" height="9.6" fill="#000000"/>
<rect x="759.78" y="273.72" width="9.6" height="9.6" fill="#000000"/>
<rect x="790.08" y="104.56" width="9.6" height="9.6" fill="#000000"/>
<rect x="820.37" y="109.99" width="9.6" height="9.6" fill="#000000"/>
<rect x="850.67" y="141.03" width="9.6" height="9.6" fill="#000000"/>
<rect x="880.97" y="164.31" width="9.6" height="9.6" fill="#000000"/>
<rect x="911.26" y="179.83" width="9.6" height="9.6" fill="#000000"/>
<rect x="941.56" y="212.42" width="9.6" height="9.6" fill="#000000"/>
<rect x="971.86" y="241.13" width="9.6" height="9.6" fill="#000000"/>
<rect x="1002.15" y="262.86" width="9.6" height="9.6" fill="#000000"/>
<rect x="1032.45" y="284.59" width="9.6" height="9.6" fill="#000000"/>
<rect x="547.7" y="375.38" width="9.6" height="9.6" fill="#000000"/>
<rect x="578" y="359.08" width="9.6" height="9.6" fill="#000000"/>
<rect x="608.29" y="330.37" width="9.6" height="9.6" fill="#000000"/>
<rect x="638.59" y="310.2" width="9.6" height="9.6" fill="#000000"/>
<rect x="668.89" y="297.78" width="9.6" height="9.6" fill="#000000"/>
<rect x="699.18" y="290.02" width="9.6" height="9.6" fill="#000000"/>
<rect x="729.48" y="284.59" width="9.6" height="9.6" fill="#000000"/>
<rect x="759.78" y="279.16" width="9.6" height="9.6" fill="#000000"/>
<rect x="790.08" y="130.81" width="9.6" height="9.6" fill="#000000"/>
<rect x="820.37" y="115.42" width="9.6" height="9.6" fill="#000000"/>
<rect x="850.67" y="145.68" width="9.6" height="9.6" fill="#000000"/>
<rect x="880.97" y="169.74" width="9.6" height="9.6" fill="#000000"/>
<rect x="911.26" y="184.48" width="9.6" height="9.6" fill="#000000"/>
<rect x="941.56" y="214.75" width="9.6" height="9.6" fill="#000000"/>
<rect x="971.86" y="244.24" width="9.6" height="9.6" fill="#000000"/>
<rect x="1002.15" y="266.74" width="9.6" height="9.6" fill="#000000"/>
<rect x="1032.45" y="285.36" width="9.6" height="9.6" fill="#000000"/>
</g>
<path d="M575.22 395.7V390.7M575.22 7.7V12.7M597.95 395.7V386.2M597.95 7.7V17.2M620.67 395.7V390.7M620.67 7.7V12.7M643.39 395.7V386.2M643.39 7.7V17.2M666.11 395.7V390.7M666.11 7.7V12.7M688.84 395.7V386.2M688.84 7.7V17.2M711.56 395.7V390.7M711.56 7.7V12.7M734.28 395.7V386.2M734.28 7.7V17.2M757 395.7V390.7M757 7.7V12.7M779.73 395.7V386.2M779.73 7.7V17.2M802.45 395.7V390.7M802.45 7.7V12.7M825.17 395.7V386.2M825.17 7.7V17.2M847.9 395.7V390.7M847.9 7.7V12.7M870.62 395.7V386.2M870.62 7.7V17.2M893.34 395.7V390.7M893.34 7.7V12.7M916.06 395.7V386.2M916.06 7.7V17.2M938.79 395.7V390.7M938.79 7.7V12.7M961.51 395.7V386.2M961.51 7.7V17.2M984.23 395.7V390.7M984.23 7.7V12.7M1006.95 395.7V386.2M1006.95 7.7V17.2M1029.68 395.7V390.7M1029.68 7.7V12.7M552.5 356.9H557.5M1052.4 356.9H1047.4M552.5 318.1H562M1052.4 318.1H1042.9M552.5 279.3H557.5M1052.4 279.3H1047.4M552.5 240.5H562M1052.4 240.5H1042.9M552.5 201.7H557.5M1052.4 201.7H1047.4M552.5 162.9H562M1052.4 162.9H1042.9M552.5 124.1H557.5M1052.4 124.1H1047.4M552.5 85.3H562M1052.4 85.3H1042.9M552.5 46.5H557.5M1052.4 46.5H1047.4" stroke="#2a2a2a" stroke-width="1.5" fill="none"/>
<rect x="552.5" y="7.7" width="499.9" height="388" fill="none" stroke="#2a2a2a" stroke-width="1.9"/>
<text x="597.95" y="413.4" text-anchor="middle">300</text>
<text x="643.39" y="413.4" text-anchor="middle">600</text>
<text x="688.84" y="413.4" text-anchor="middle">900</text>
<text x="734.28" y="413.4" text-anchor="middle">1200</text>
<text x="779.73" y="413.4" text-anchor="middle">1500</text>
<text x="825.17" y="413.4" text-anchor="middle">1800</text>
<text x="870.62" y="413.4" text-anchor="middle">2100</text>
<text x="916.06" y="413.4" text-anchor="middle">2400</text>
<text x="961.51" y="413.4" text-anchor="middle">2700</text>
<text x="1006.95" y="413.4" text-anchor="middle">3000</text>
<text x="1052.4" y="413.4" text-anchor="middle">3300</text>
<path d="M563 31.4H604.5" stroke="#e62828" stroke-width="1.4"/>
<circle cx="583.5" cy="31.4" r="5.6" fill="#f80808"/>
<text x="607.5" y="37.6">20Ah center of the right face</text>
<path d="M563 53.9H604.5" stroke="#000000" stroke-width="1.4"/>
<rect x="578.5" y="48.9" width="10" height="10" fill="#000000"/>
<text x="607.5" y="60.1">24Ah center of the right face</text>
<text x="564.7" y="81.6">100% SOC</text>
<clipPath id="cP3"><rect x="53.9" y="428.5" width="498.9" height="387.4"/></clipPath>
<g clip-path="url(#cP3)">
<path d="M53.9 784.91C58.16 778.29 62.43 770.79 66.69 762.63C70.96 754.48 75.22 741.54 79.48 735.51C83.75 729.49 88.01 726.63 92.28 721.96C96.54 717.28 100.81 712.43 105.07 707.43C109.33 702.43 113.6 696.36 117.86 691.93C122.13 687.5 126.39 684.61 130.65 680.31C134.92 676.01 139.18 669.88 143.45 665.78C147.71 661.68 151.97 658.33 156.24 655.13C160.5 651.93 164.77 648.95 169.03 646.41C173.29 643.87 177.56 641.72 181.82 639.63C186.09 637.55 190.35 635.37 194.62 633.82C198.88 632.27 203.14 629.95 207.41 629.95C211.67 629.95 215.94 632.85 220.2 632.85C224.46 632.85 228.73 632.32 232.99 631.88C237.26 631.45 241.52 630.72 245.78 629.95C250.05 629.17 254.31 628.25 258.58 627.04C262.84 625.83 267.11 624.08 271.37 622.2C275.63 620.32 279.9 617.06 284.16 615.42C288.43 613.78 292.69 612.84 296.95 611.55C301.22 610.26 305.48 609.11 309.75 607.67C314.01 606.24 318.27 604.44 322.54 602.83C326.8 601.22 331.07 599.75 335.33 597.99C339.59 596.23 343.86 594.11 348.12 592.18C352.39 590.24 356.65 587.66 360.92 586.37C365.18 585.07 369.44 584.43 373.71 583.46C377.97 582.49 382.24 581.91 386.5 580.55C390.76 579.2 395.03 575.86 399.29 573.77C403.56 571.69 407.82 569.51 412.08 567.96C416.35 566.41 420.61 564.61 424.88 564.09C429.14 563.57 433.41 563.12 437.67 563.12C441.93 563.12 446.2 564.28 450.46 565.06C454.73 565.83 458.99 567 463.25 567.96C467.52 568.93 471.78 569.9 476.05 570.87C480.31 571.84 484.57 572.81 488.84 573.77C493.1 574.74 497.37 575.91 501.63 576.68C505.89 577.46 510.16 577.46 514.42 578.62C516.56 579.2 518.69 581.04 520.82 583.46C522.95 585.88 525.08 593.22 527.22 597.99C531.48 607.53 535.74 619.69 540.01 626.07C544.27 632.46 548.54 638.02 552.8 640.6" fill="none" stroke="#e62828" stroke-width="1.35" stroke-linejoin="round"/>
<path d="M53.9 788.78C58.16 782.65 62.43 776.18 66.69 769.41C70.96 762.65 75.22 754.87 79.48 748.11C83.75 741.34 88.01 734.85 92.28 728.74C96.54 722.62 100.81 716.39 105.07 711.3C109.33 706.22 113.6 701.91 117.86 697.74C122.13 693.57 126.39 690.29 130.65 686.12C134.92 681.95 139.18 676.91 143.45 672.56C147.71 668.21 151.97 663.62 156.24 659.97C160.5 656.32 164.77 653.34 169.03 650.29C173.29 647.23 177.56 643.89 181.82 641.57C186.09 639.25 190.35 637.31 194.62 635.76C198.88 634.21 203.14 631.88 207.41 631.88C211.67 631.88 215.94 634.31 220.2 634.79C224.46 635.27 228.73 635.76 232.99 635.76C237.26 635.76 241.52 634.47 245.78 633.82C250.05 633.18 254.31 632.81 258.58 631.88C262.84 630.96 267.11 628.66 271.37 627.04C275.63 625.43 279.9 623.63 284.16 622.2C288.43 620.77 292.69 619.62 296.95 618.33C301.22 617.03 305.48 615.74 309.75 614.45C314.01 613.16 318.27 611.68 322.54 610.58C326.8 609.47 331.07 609.03 335.33 607.67C339.59 606.32 343.86 603.15 348.12 600.89C352.39 598.63 356.65 596 360.92 594.11C365.18 592.23 369.44 590.71 373.71 589.27C377.97 587.84 382.24 585.4 386.5 585.4C390.76 585.4 395.03 585.4 399.29 585.4C403.56 585.4 407.82 585.4 412.08 585.4C416.35 585.4 420.61 583.6 424.88 582.49C429.14 581.38 433.41 579.48 437.67 578.62C441.93 577.76 446.2 577.33 450.46 576.68C454.73 576.03 458.99 574.74 463.25 574.74C465.51 574.74 467.77 574.95 470.03 575.23C472.51 575.53 474.98 576.77 477.45 578.62C479.16 579.89 480.86 583.46 482.57 587.33C483.59 589.66 484.62 595.07 485.64 597.02C486.71 599.05 487.77 599.96 488.84 601.38C490.97 604.21 493.1 606.29 495.23 609.61C497.37 612.93 499.5 618 501.63 622.2C503.76 626.4 505.89 631.36 508.03 634.79C510.16 638.22 512.29 640.6 514.42 643.51C518.69 649.32 522.95 655.66 527.22 660.94C531.48 666.22 535.74 670.97 540.01 675.47C544.27 679.96 548.54 684.18 552.8 688.06" fill="none" stroke="#e62828" stroke-width="1.35" stroke-linejoin="round"/>
<path d="M53.9 791.69C58.16 785.72 62.43 779.22 66.69 772.32C70.96 765.41 75.22 756.95 79.48 750.04C83.75 743.13 88.01 736.61 92.28 730.67C96.54 724.74 100.81 719.35 105.07 714.21C109.33 709.06 113.6 703.98 117.86 699.68C122.13 695.38 126.39 692.09 130.65 688.06C134.92 684.03 139.18 679.66 143.45 675.47C147.71 671.27 151.97 666.53 156.24 662.88C160.5 659.23 164.77 656.25 169.03 653.19C173.29 650.13 177.56 646.8 181.82 644.48C186.09 642.15 190.35 640.43 194.62 638.66C198.88 636.9 203.14 633.82 207.41 633.82C211.67 633.82 215.94 636.24 220.2 636.73C224.46 637.21 228.73 637.7 232.99 637.7C237.26 637.7 241.52 636.4 245.78 635.76C250.05 635.11 254.31 634.6 258.58 633.82C262.84 633.05 267.11 631.88 271.37 630.92C275.63 629.95 279.9 629.12 284.16 628.01C288.43 626.9 292.69 625.43 296.95 624.14C301.22 622.85 305.48 621.55 309.75 620.26C314.01 618.97 318.27 617.68 322.54 616.39C326.8 615.1 331.07 613.03 335.33 612.51C339.59 612 343.86 611.87 348.12 611.55C352.39 611.22 356.65 611.12 360.92 610.58C365.18 610.04 369.44 607.17 373.71 605.74C377.97 604.3 382.24 603.51 386.5 601.86C390.76 600.22 395.03 596.97 399.29 595.08C403.56 593.2 407.82 590.24 412.08 590.24C416.35 590.24 420.61 590.24 424.88 590.24C429.14 590.24 433.41 590.72 437.67 591.21C441.93 591.69 446.2 593.34 450.46 594.11C454.73 594.89 458.99 595.13 463.25 596.05C467.52 596.97 471.78 599.46 476.05 600.89C480.31 602.33 484.57 604.77 488.84 604.77C493.1 604.77 497.37 604.12 501.63 603.8C505.89 603.48 510.16 602.83 514.42 602.83C516.56 602.83 518.69 605.25 520.82 607.67C522.95 610.09 525.08 618.13 527.22 622.2C531.48 630.34 535.74 637.11 540.01 642.54C544.27 647.96 548.54 652.71 552.8 656.1" fill="none" stroke="#e62828" stroke-width="1.35" stroke-linejoin="round"/>
<path d="M53.9 802.34C58.16 788.46 62.43 775.19 66.69 762.63C70.96 750.08 75.22 735.96 79.48 726.8C83.75 717.64 88.01 710.38 92.28 704.52C96.54 698.66 100.81 694.3 105.07 690C109.33 685.69 113.6 681.47 117.86 678.37C122.13 675.27 126.39 673.49 130.65 670.62C134.92 667.76 139.18 663.36 143.45 660.94C147.71 658.52 151.97 656.68 156.24 655.13C160.5 653.58 164.77 652.55 169.03 651.25C173.29 649.96 177.56 649.17 181.82 647.38C186.09 645.59 190.35 641.57 194.62 638.66C198.88 635.76 203.14 629.95 207.41 629.95C211.67 629.95 215.94 629.95 220.2 629.95C224.46 629.95 228.73 629.95 232.99 629.95C237.26 629.95 241.52 625.8 245.78 622.2C248.34 620.04 250.9 616.99 253.46 612.51C255.17 609.53 256.87 605.89 258.58 598.96C260.28 592.03 261.99 568.22 263.69 554.4C265.4 540.59 267.11 521.29 268.81 515.66C269.66 512.85 270.52 509.85 271.37 509.85C272.22 509.85 273.07 512.95 273.93 513.73C277.34 516.83 280.75 517.53 284.16 519.54C286.29 520.79 288.43 521.86 290.56 523.41C292.69 524.96 294.82 527.01 296.95 529.22C299.09 531.44 301.22 533.87 303.35 536.97C305.48 540.07 307.61 543.92 309.75 548.59C314.01 557.94 318.27 577.28 322.54 586.37C326.8 595.45 331.07 600.74 335.33 607.67C339.59 614.61 343.86 622.15 348.12 628.01C352.39 633.87 356.65 638.69 360.92 643.51C365.18 648.33 369.44 652.89 373.71 657.07C377.97 661.24 382.24 664.81 386.5 668.69C390.76 672.56 395.03 676.79 399.29 680.31C403.56 683.83 407.82 686.77 412.08 690C416.35 693.22 420.61 696.81 424.88 699.68C429.14 702.55 433.41 704.85 437.67 707.43C441.93 710.01 446.2 712.59 450.46 715.18C454.73 717.76 458.99 720.71 463.25 722.92C467.52 725.14 471.78 726.97 476.05 728.74C480.31 730.5 484.57 731.82 488.84 733.58C493.1 735.34 497.37 737.45 501.63 739.39C505.89 741.33 510.16 743.44 514.42 745.2C518.69 746.96 522.95 748.61 527.22 750.04C531.48 751.48 535.74 752.37 540.01 753.92C544.27 755.47 548.54 757.47 552.8 759.73" fill="none" stroke="#000000" stroke-width="1.35" stroke-linejoin="round"/>
<path d="M53.9 803.31C58.16 793.14 62.43 782.81 66.69 772.32C70.96 761.83 75.22 749.95 79.48 740.36C83.75 730.77 88.01 720.43 92.28 714.21C96.54 707.98 100.81 704.18 105.07 699.68C109.33 695.18 113.6 690.03 117.86 687.09C122.13 684.15 126.39 682.72 130.65 680.31C134.92 677.9 139.18 674.55 143.45 672.56C147.71 670.58 151.97 669.15 156.24 667.72C160.5 666.28 164.77 665.14 169.03 663.85C173.29 662.55 177.56 661.76 181.82 659.97C186.09 658.18 190.35 653.99 194.62 651.25C198.88 648.52 203.14 646.9 207.41 643.51C209.54 641.81 211.67 639.39 213.8 636.73C215.94 634.07 218.07 627.04 220.2 627.04C222.33 627.04 224.46 634.31 226.6 636.73C228.73 639.15 230.86 642.54 232.99 642.54C237.26 642.54 241.52 639.15 245.78 636.73C250.05 634.31 254.31 630.88 258.58 627.04C260.71 625.12 262.84 623.9 264.97 620.26C267.02 616.77 269.07 603.21 271.11 594.11C272.99 585.77 274.87 579.25 276.74 567.96C277.72 562.07 278.7 552.3 279.68 544.72C280.54 538.13 281.39 529.39 282.24 525.35C282.88 522.32 283.52 519.39 284.16 518.57C285.01 517.47 285.87 516.63 286.72 516.63C288.68 516.63 290.64 517.98 292.6 519.54C294.05 520.69 295.5 524.5 296.95 527.29C299.09 531.39 301.22 535.23 303.35 540.85C305.48 546.47 307.61 556.61 309.75 563.12C314.01 576.15 318.27 589.07 322.54 597.02C326.8 604.97 331.07 609.29 335.33 615.42C339.59 621.55 343.86 628.21 348.12 633.82C352.39 639.43 356.65 644.5 360.92 649.32C365.18 654.14 369.44 658.7 373.71 662.88C377.97 667.05 382.24 670.62 386.5 674.5C390.76 678.37 395.03 682.42 399.29 686.12C403.56 689.83 407.82 693.58 412.08 696.77C416.35 699.97 420.61 702.59 424.88 705.49C429.14 708.4 433.41 711.47 437.67 714.21C441.93 716.94 446.2 719.55 450.46 721.96C454.73 724.37 458.99 726.65 463.25 728.74C467.52 730.82 471.78 732.61 476.05 734.55C480.31 736.48 484.57 738.42 488.84 740.36C493.1 742.29 497.37 744.23 501.63 746.17C505.89 748.11 510.16 750.43 514.42 751.98C518.69 753.53 522.95 754.42 527.22 755.85C531.48 757.29 535.74 759.26 540.01 760.7C544.27 762.13 548.54 763.44 552.8 764.57" fill="none" stroke="#000000" stroke-width="1.35" stroke-linejoin="round"/>
<path d="M53.9 804.28C58.16 795.08 62.43 785.37 66.69 775.22C70.96 765.08 75.22 752.45 79.48 743.26C83.75 734.08 88.01 725.1 92.28 719.05C96.54 713 100.81 709.02 105.07 704.52C109.33 700.03 113.6 695.37 117.86 691.93C122.13 688.5 126.39 685.95 130.65 683.22C134.92 680.48 139.18 677.68 143.45 675.47C147.71 673.25 151.97 670.95 156.24 669.66C160.5 668.37 164.77 667.86 169.03 666.75C173.29 665.64 177.56 664.6 181.82 662.88C186.09 661.16 190.35 658 194.62 655.13C198.88 652.26 203.14 647.29 207.41 645.44C211.67 643.6 215.94 641.57 220.2 641.57C224.46 641.57 228.73 644.48 232.99 644.48C237.26 644.48 241.52 641.09 245.78 638.66C250.05 636.24 254.31 632.92 258.58 628.98C261.14 626.62 263.69 625.05 266.25 620.26C268.17 616.67 270.09 602.69 272.01 594.11C273.84 585.92 275.68 580.41 277.51 569.9C278.45 564.53 279.39 555.11 280.32 548.59C281.18 542.67 282.03 537.03 282.88 532.13C283.31 529.68 283.74 526.17 284.16 525.35C285.44 522.9 286.72 521.48 288 521.48C290.13 521.48 292.26 522.23 294.4 523.41C296.1 524.36 297.81 531.32 299.51 536C302.92 545.38 306.33 558.28 309.75 568.93C314.01 582.25 318.27 600.63 322.54 607.67C326.8 614.72 331.07 616.92 335.33 622.2C339.59 627.48 343.86 634.16 348.12 639.63C352.39 645.1 356.65 650.31 360.92 655.13C365.18 659.95 369.44 664.52 373.71 668.69C377.97 672.86 382.24 676.44 386.5 680.31C390.76 684.18 395.03 688.23 399.29 691.93C403.56 695.64 407.82 699.39 412.08 702.59C416.35 705.78 420.61 708.4 424.88 711.3C429.14 714.21 433.41 717.28 437.67 720.02C441.93 722.75 446.2 725.36 450.46 727.77C454.73 730.18 458.99 732.46 463.25 734.55C467.52 736.63 471.78 738.42 476.05 740.36C480.31 742.29 484.57 744.41 488.84 746.17C493.1 747.93 497.37 749.25 501.63 751.01C505.89 752.77 510.16 755.27 514.42 756.82C518.69 758.37 522.95 759.26 527.22 760.7C531.48 762.13 535.74 764.33 540.01 765.54C544.27 766.75 548.54 767.8 552.8 768.44" fill="none" stroke="#000000" stroke-width="1.35" stroke-linejoin="round"/>
<circle cx="53.9" cy="784.91" r="5.3" fill="#f80808"/>
<circle cx="79.48" cy="735.51" r="5.3" fill="#f80808"/>
<circle cx="105.07" cy="707.43" r="5.3" fill="#f80808"/>
<circle cx="130.65" cy="680.31" r="5.3" fill="#f80808"/>
<circle cx="156.24" cy="655.13" r="5.3" fill="#f80808"/>
<circle cx="181.82" cy="639.63" r="5.3" fill="#f80808"/>
<circle cx="207.41" cy="629.95" r="5.3" fill="#f80808"/>
<circle cx="232.99" cy="631.88" r="5.3" fill="#f80808"/>
<circle cx="258.58" cy="627.04" r="5.3" fill="#f80808"/>
<circle cx="284.16" cy="615.42" r="5.3" fill="#f80808"/>
<circle cx="309.75" cy="607.67" r="5.3" fill="#f80808"/>
<circle cx="335.33" cy="597.99" r="5.3" fill="#f80808"/>
<circle cx="360.92" cy="586.37" r="5.3" fill="#f80808"/>
<circle cx="386.5" cy="580.55" r="5.3" fill="#f80808"/>
<circle cx="412.08" cy="567.96" r="5.3" fill="#f80808"/>
<circle cx="437.67" cy="563.12" r="5.3" fill="#f80808"/>
<circle cx="463.25" cy="567.96" r="5.3" fill="#f80808"/>
<circle cx="488.84" cy="573.77" r="5.3" fill="#f80808"/>
<circle cx="514.42" cy="578.62" r="5.3" fill="#f80808"/>
<circle cx="540.01" cy="626.07" r="5.3" fill="#f80808"/>
<circle cx="53.9" cy="788.78" r="5.3" fill="#f80808"/>
<circle cx="79.48" cy="748.11" r="5.3" fill="#f80808"/>
<circle cx="105.07" cy="711.3" r="5.3" fill="#f80808"/>
<circle cx="130.65" cy="686.12" r="5.3" fill="#f80808"/>
<circle cx="156.24" cy="659.97" r="5.3" fill="#f80808"/>
<circle cx="181.82" cy="641.57" r="5.3" fill="#f80808"/>
<circle cx="207.41" cy="631.88" r="5.3" fill="#f80808"/>
<circle cx="232.99" cy="635.76" r="5.3" fill="#f80808"/>
<circle cx="258.58" cy="631.88" r="5.3" fill="#f80808"/>
<circle cx="284.16" cy="622.2" r="5.3" fill="#f80808"/>
<circle cx="309.75" cy="614.45" r="5.3" fill="#f80808"/>
<circle cx="335.33" cy="607.67" r="5.3" fill="#f80808"/>
<circle cx="360.92" cy="594.11" r="5.3" fill="#f80808"/>
<circle cx="386.5" cy="585.4" r="5.3" fill="#f80808"/>
<circle cx="412.08" cy="585.4" r="5.3" fill="#f80808"/>
<circle cx="437.67" cy="578.62" r="5.3" fill="#f80808"/>
<circle cx="463.25" cy="574.74" r="5.3" fill="#f80808"/>
<circle cx="488.84" cy="601.38" r="5.3" fill="#f80808"/>
<circle cx="514.42" cy="643.51" r="5.3" fill="#f80808"/>
<circle cx="540.01" cy="675.47" r="5.3" fill="#f80808"/>
<circle cx="53.9" cy="791.69" r="5.3" fill="#f80808"/>
<circle cx="79.48" cy="750.04" r="5.3" fill="#f80808"/>
<circle cx="105.07" cy="714.21" r="5.3" fill="#f80808"/>
<circle cx="130.65" cy="688.06" r="5.3" fill="#f80808"/>
<circle cx="156.24" cy="662.88" r="5.3" fill="#f80808"/>
<circle cx="181.82" cy="644.48" r="5.3" fill="#f80808"/>
<circle cx="207.41" cy="633.82" r="5.3" fill="#f80808"/>
<circle cx="232.99" cy="637.7" r="5.3" fill="#f80808"/>
<circle cx="258.58" cy="633.82" r="5.3" fill="#f80808"/>
<circle cx="284.16" cy="628.01" r="5.3" fill="#f80808"/>
<circle cx="309.75" cy="620.26" r="5.3" fill="#f80808"/>
<circle cx="335.33" cy="612.51" r="5.3" fill="#f80808"/>
<circle cx="360.92" cy="610.58" r="5.3" fill="#f80808"/>
<circle cx="386.5" cy="601.86" r="5.3" fill="#f80808"/>
<circle cx="412.08" cy="590.24" r="5.3" fill="#f80808"/>
<circle cx="437.67" cy="591.21" r="5.3" fill="#f80808"/>
<circle cx="463.25" cy="596.05" r="5.3" fill="#f80808"/>
<circle cx="488.84" cy="604.77" r="5.3" fill="#f80808"/>
<circle cx="514.42" cy="602.83" r="5.3" fill="#f80808"/>
<circle cx="540.01" cy="642.54" r="5.3" fill="#f80808"/>
<rect x="49.1" y="797.54" width="9.6" height="9.6" fill="#000000"/>
<rect x="74.68" y="722" width="9.6" height="9.6" fill="#000000"/>
<rect x="100.27" y="685.2" width="9.6" height="9.6" fill="#000000"/>
<rect x="125.85" y="665.83" width="9.6" height="9.6" fill="#000000"/>
<rect x="151.44" y="650.33" width="9.6" height="9.6" fill="#000000"/>
<rect x="177.02" y="642.58" width="9.6" height="9.6" fill="#000000"/>
<rect x="202.61" y="625.15" width="9.6" height="9.6" fill="#000000"/>
<rect x="228.19" y="625.15" width="9.6" height="9.6" fill="#000000"/>
<rect x="253.78" y="594.16" width="9.6" height="9.6" fill="#000000"/>
<rect x="279.36" y="514.74" width="9.6" height="9.6" fill="#000000"/>
<rect x="304.95" y="543.79" width="9.6" height="9.6" fill="#000000"/>
<rect x="330.53" y="602.87" width="9.6" height="9.6" fill="#000000"/>
<rect x="356.12" y="638.71" width="9.6" height="9.6" fill="#000000"/>
<rect x="381.7" y="663.89" width="9.6" height="9.6" fill="#000000"/>
<rect x="407.28" y="685.2" width="9.6" height="9.6" fill="#000000"/>
<rect x="432.87" y="702.63" width="9.6" height="9.6" fill="#000000"/>
<rect x="458.45" y="718.12" width="9.6" height="9.6" fill="#000000"/>
<rect x="484.04" y="728.78" width="9.6" height="9.6" fill="#000000"/>
<rect x="509.62" y="740.4" width="9.6" height="9.6" fill="#000000"/>
<rect x="535.21" y="749.12" width="9.6" height="9.6" fill="#000000"/>
<rect x="49.1" y="798.51" width="9.6" height="9.6" fill="#000000"/>
<rect x="74.68" y="735.56" width="9.6" height="9.6" fill="#000000"/>
<rect x="100.27" y="694.88" width="9.6" height="9.6" fill="#000000"/>
<rect x="125.85" y="675.51" width="9.6" height="9.6" fill="#000000"/>
<rect x="151.44" y="662.92" width="9.6" height="9.6" fill="#000000"/>
<rect x="177.02" y="655.17" width="9.6" height="9.6" fill="#000000"/>
<rect x="202.61" y="638.71" width="9.6" height="9.6" fill="#000000"/>
<rect x="228.19" y="637.74" width="9.6" height="9.6" fill="#000000"/>
<rect x="253.78" y="622.24" width="9.6" height="9.6" fill="#000000"/>
<rect x="279.36" y="513.77" width="9.6" height="9.6" fill="#000000"/>
<rect x="304.95" y="558.32" width="9.6" height="9.6" fill="#000000"/>
<rect x="330.53" y="610.62" width="9.6" height="9.6" fill="#000000"/>
<rect x="356.12" y="644.52" width="9.6" height="9.6" fill="#000000"/>
<rect x="381.7" y="669.7" width="9.6" height="9.6" fill="#000000"/>
<rect x="407.28" y="691.97" width="9.6" height="9.6" fill="#000000"/>
<rect x="432.87" y="709.41" width="9.6" height="9.6" fill="#000000"/>
<rect x="458.45" y="723.94" width="9.6" height="9.6" fill="#000000"/>
<rect x="484.04" y="735.56" width="9.6" height="9.6" fill="#000000"/>
<rect x="509.62" y="747.18" width="9.6" height="9.6" fill="#000000"/>
<rect x="535.21" y="755.9" width="9.6" height="9.6" fill="#000000"/>
<rect x="49.1" y="799.48" width="9.6" height="9.6" fill="#000000"/>
<rect x="74.68" y="738.46" width="9.6" height="9.6" fill="#000000"/>
<rect x="100.27" y="699.72" width="9.6" height="9.6" fill="#000000"/>
<rect x="125.85" y="678.42" width="9.6" height="9.6" fill="#000000"/>
<rect x="151.44" y="664.86" width="9.6" height="9.6" fill="#000000"/>
<rect x="177.02" y="658.08" width="9.6" height="9.6" fill="#000000"/>
<rect x="202.61" y="640.64" width="9.6" height="9.6" fill="#000000"/>
<rect x="228.19" y="639.68" width="9.6" height="9.6" fill="#000000"/>
<rect x="253.78" y="624.18" width="9.6" height="9.6" fill="#000000"/>
<rect x="279.36" y="520.55" width="9.6" height="9.6" fill="#000000"/>
<rect x="304.95" y="564.13" width="9.6" height="9.6" fill="#000000"/>
<rect x="330.53" y="617.4" width="9.6" height="9.6" fill="#000000"/>
<rect x="356.12" y="650.33" width="9.6" height="9.6" fill="#000000"/>
<rect x="381.7" y="675.51" width="9.6" height="9.6" fill="#000000"/>
<rect x="407.28" y="697.79" width="9.6" height="9.6" fill="#000000"/>
<rect x="432.87" y="715.22" width="9.6" height="9.6" fill="#000000"/>
<rect x="458.45" y="729.75" width="9.6" height="9.6" fill="#000000"/>
<rect x="484.04" y="741.37" width="9.6" height="9.6" fill="#000000"/>
<rect x="509.62" y="752.02" width="9.6" height="9.6" fill="#000000"/>
<rect x="535.21" y="760.74" width="9.6" height="9.6" fill="#000000"/>
</g>
<path d="M73.09 815.9V810.9M73.09 428.5V433.5M92.28 815.9V806.4M92.28 428.5V438M111.47 815.9V810.9M111.47 428.5V433.5M130.65 815.9V806.4M130.65 428.5V438M149.84 815.9V810.9M149.84 428.5V433.5M169.03 815.9V806.4M169.03 428.5V438M188.22 815.9V810.9M188.22 428.5V433.5M207.41 815.9V806.4M207.41 428.5V438M226.6 815.9V810.9M226.6 428.5V433.5M245.78 815.9V806.4M245.78 428.5V438M264.97 815.9V810.9M264.97 428.5V433.5M284.16 815.9V806.4M284.16 428.5V438M303.35 815.9V810.9M303.35 428.5V433.5M322.54 815.9V806.4M322.54 428.5V438M341.73 815.9V810.9M341.73 428.5V433.5M360.92 815.9V806.4M360.92 428.5V438M380.1 815.9V810.9M380.1 428.5V433.5M399.29 815.9V806.4M399.29 428.5V438M418.48 815.9V810.9M418.48 428.5V433.5M437.67 815.9V806.4M437.67 428.5V438M456.86 815.9V810.9M456.86 428.5V433.5M476.05 815.9V806.4M476.05 428.5V438M495.23 815.9V810.9M495.23 428.5V433.5M514.42 815.9V806.4M514.42 428.5V438M533.61 815.9V810.9M533.61 428.5V433.5M53.9 767.48H58.9M552.8 767.48H547.8M53.9 719.05H63.4M552.8 719.05H543.3M53.9 670.62H58.9M552.8 670.62H547.8M53.9 622.2H63.4M552.8 622.2H543.3M53.9 573.77H58.9M552.8 573.77H547.8M53.9 525.35H63.4M552.8 525.35H543.3M53.9 476.93H58.9M552.8 476.93H547.8" stroke="#2a2a2a" stroke-width="1.5" fill="none"/>
<rect x="53.9" y="428.5" width="498.9" height="387.4" fill="none" stroke="#2a2a2a" stroke-width="1.9"/>
<text x="92.28" y="833.6" text-anchor="middle">300</text>
<text x="130.65" y="833.6" text-anchor="middle">600</text>
<text x="169.03" y="833.6" text-anchor="middle">900</text>
<text x="207.41" y="833.6" text-anchor="middle">1200</text>
<text x="245.78" y="833.6" text-anchor="middle">1500</text>
<text x="284.16" y="833.6" text-anchor="middle">1800</text>
<text x="322.54" y="833.6" text-anchor="middle">2100</text>
<text x="360.92" y="833.6" text-anchor="middle">2400</text>
<text x="399.29" y="833.6" text-anchor="middle">2700</text>
<text x="437.67" y="833.6" text-anchor="middle">3000</text>
<text x="476.05" y="833.6" text-anchor="middle">3300</text>
<text x="514.42" y="833.6" text-anchor="middle">3600</text>
<text x="552.8" y="833.6" text-anchor="middle">3900</text>
<text x="51.4" y="821.2" text-anchor="end">0</text>
<text x="51.4" y="724.35" text-anchor="end">100</text>
<text x="51.4" y="627.5" text-anchor="end">200</text>
<text x="51.4" y="530.65" text-anchor="end">300</text>
<text x="51.4" y="433.8" text-anchor="end">400</text>
<text x="0" y="0" text-anchor="middle" style="font-size:18.8px" transform="translate(16 619.5) rotate(-90)">Temperature/°C</text>
<path d="M66.1 451.6H106.3" stroke="#e62828" stroke-width="1.4"/>
<circle cx="86.2" cy="451.6" r="5.6" fill="#f80808"/>
<text x="112.1" y="457.8">20Ah negative</text>
<path d="M66.1 474.9H106.3" stroke="#000000" stroke-width="1.4"/>
<rect x="81.2" y="469.9" width="10" height="10" fill="#000000"/>
<text x="112.1" y="481.1">24Ah negative</text>
<text x="66.8" y="502.9">50% SOC</text>
<clipPath id="cP4"><rect x="552.9" y="429.5" width="499.1" height="387.8"/></clipPath>
<g clip-path="url(#cP4)">
<path d="M552.9 795.97C557.17 790.8 561.43 785.63 565.7 780.46C569.96 775.29 574.23 770.82 578.49 764.95C582.76 759.08 587.03 751.03 591.29 744.59C595.56 738.14 599.82 731.16 604.09 726.17C608.36 721.18 612.62 717.22 616.89 713.56C621.15 709.91 625.42 706.02 629.68 703.87C633.95 701.71 638.22 700.46 642.48 699.02C646.75 697.58 651.01 696.58 655.28 695.14C659.55 693.71 663.81 692.06 668.08 690.3C672.34 688.53 676.61 686.03 680.87 684.48C685.14 682.93 689.41 682.04 693.67 680.6C697.94 679.16 702.2 677.64 706.47 675.75C710.74 673.87 715 671.23 719.27 668.97C723.53 666.7 727.8 663.54 732.06 662.18C736.33 660.82 740.6 660.24 744.86 659.27C749.13 658.3 753.39 656.85 757.66 656.36C761.92 655.88 766.19 655.78 770.46 655.39C774.72 655.01 778.99 654.55 783.25 653.94C787.52 653.33 791.79 652.37 796.05 651.52C800.32 650.66 804.58 649.89 808.85 648.8C813.11 647.72 817.38 646.18 821.65 644.73C825.91 643.28 830.18 641.05 834.44 640.08C838.71 639.1 842.98 638.76 847.24 637.94C851.51 637.12 855.77 636.39 860.04 635.03C864.3 633.68 868.57 630.72 872.84 628.25C877.1 625.78 881.37 622.68 885.63 620.1C889.9 617.52 894.16 614.75 898.43 612.74C902.7 610.72 906.96 609.21 911.23 607.6C915.49 605.99 919.76 603.28 924.03 603.04C928.29 602.8 932.56 602.65 936.82 602.65C941.09 602.65 945.35 604.72 949.62 605.95C953.89 607.18 958.15 609.05 962.42 610.12C966.68 611.19 970.95 611.82 975.22 612.74C979.48 613.65 983.75 614.67 988.01 615.64C992.28 616.61 996.54 617.52 1000.81 618.55C1005.08 619.58 1009.34 620.29 1013.61 621.85C1015.74 622.63 1017.87 623.73 1020.01 625.34C1022.14 626.94 1024.27 630.5 1026.41 633.1C1030.67 638.29 1034.94 643.91 1039.2 648.8C1043.47 653.69 1047.73 658.3 1052 662.57" fill="none" stroke="#e62828" stroke-width="1.35" stroke-linejoin="round"/>
<path d="M552.9 799.85C557.17 795.32 561.43 790.46 565.7 785.31C569.96 780.16 574.23 774.76 578.49 768.82C582.76 762.89 587.03 755.56 591.29 749.43C595.56 743.31 599.82 736.86 604.09 731.98C608.36 727.11 612.62 722.82 616.89 719.38C621.15 715.94 625.42 713.2 629.68 710.65C633.95 708.11 638.22 705.75 642.48 703.87C646.75 701.98 651.01 700.64 655.28 699.02C659.55 697.41 663.81 695.79 668.08 694.17C672.34 692.56 676.61 690.94 680.87 689.33C685.14 687.71 689.41 686.09 693.67 684.48C697.94 682.86 702.2 681.39 706.47 679.63C710.74 677.87 715 675.9 719.27 673.81C723.53 671.73 727.8 668.38 732.06 667.03C736.33 665.67 740.6 664.89 744.86 664.12C749.13 663.34 753.39 662.96 757.66 662.18C761.92 661.4 766.19 660.05 770.46 659.27C774.72 658.5 778.99 657.98 783.25 657.33C787.52 656.69 791.79 656.16 796.05 655.39C800.32 654.63 804.58 653.55 808.85 652.58C813.11 651.61 817.38 650.61 821.65 649.58C825.91 648.54 830.18 647.34 834.44 646.38C838.71 645.42 842.98 644.78 847.24 643.76C851.51 642.74 855.77 641.68 860.04 640.08C864.3 638.47 868.57 635.15 872.84 633.1C877.1 631.04 881.37 628.25 885.63 627.57C889.9 626.88 894.16 626.31 898.43 626.31C902.7 626.31 906.96 630.09 911.23 630.09C915.49 630.09 919.76 629.4 924.03 629.22C928.29 629.04 932.56 628.83 936.82 628.83C941.09 628.83 945.35 629.22 949.62 629.22C953.89 629.22 958.15 628.83 962.42 628.83C964.55 628.83 966.68 631.45 968.82 633.1C970.95 634.74 973.08 637.22 975.22 638.91C979.48 642.29 983.75 644 988.01 647.64C992.28 651.27 996.54 657.87 1000.81 662.18C1005.08 666.49 1009.34 670.1 1013.61 673.81C1017.87 677.52 1022.14 681.17 1026.41 684.48C1030.67 687.79 1034.94 690.78 1039.2 693.79C1043.47 696.79 1047.73 699.7 1052 702.51" fill="none" stroke="#e62828" stroke-width="1.35" stroke-linejoin="round"/>
<path d="M552.9 802.76C557.17 798.72 561.43 794.51 565.7 790.15C569.96 785.8 574.23 780.94 578.49 776.58C582.76 772.22 587.03 768.33 591.29 763.98C595.56 759.62 599.82 755.08 604.09 750.4C608.36 745.72 612.62 740.49 616.89 735.86C621.15 731.23 625.42 726.38 629.68 722.58C633.95 718.78 638.22 715.5 642.48 712.59C646.75 709.68 651.01 706.83 655.28 704.84C659.55 702.85 663.81 701.61 668.08 699.99C672.34 698.37 676.61 696.76 680.87 695.14C685.14 693.53 689.41 691.73 693.67 690.3C697.94 688.86 702.2 687.97 706.47 686.42C710.74 684.87 715 682.36 719.27 680.6C723.53 678.84 727.8 676.68 732.06 675.75C736.33 674.83 740.6 674.24 744.86 673.81C749.13 673.38 753.39 672.84 757.66 672.84C761.92 672.84 766.19 673.45 770.46 673.81C774.72 674.18 778.99 675.07 783.25 675.07C787.52 675.07 791.79 674.23 796.05 673.81C800.32 673.39 804.58 673.03 808.85 672.55C813.11 672.08 817.38 671.51 821.65 670.91C825.91 670.3 830.18 669.82 834.44 668.87C838.71 667.92 842.98 665.58 847.24 664.12C851.51 662.66 855.77 661.34 860.04 660.05C864.3 658.76 868.57 657.61 872.84 656.36C877.1 655.12 881.37 654.01 885.63 652.58C889.9 651.15 894.16 649.3 898.43 647.64C902.7 645.97 906.96 644.21 911.23 642.6C915.49 640.98 919.76 639.39 924.03 637.94C928.29 636.49 932.56 633.87 936.82 633.87C941.09 633.87 945.35 634.62 949.62 635.03C953.89 635.45 958.15 635.91 962.42 636.39C966.68 636.87 970.95 637.34 975.22 637.94C979.48 638.54 983.75 639.44 988.01 640.08C992.28 640.72 996.54 641.19 1000.81 641.82C1005.08 642.45 1009.34 642.72 1013.61 643.86C1017.87 644.99 1022.14 650.69 1026.41 654.42C1030.67 658.16 1034.94 662.73 1039.2 666.35C1043.47 669.97 1047.73 673.33 1052 676.33" fill="none" stroke="#e62828" stroke-width="1.35" stroke-linejoin="round"/>
<path d="M552.9 792.09C557.17 790.32 561.43 787.54 565.7 784.34C569.96 781.14 574.23 776.92 578.49 771.73C582.76 766.54 587.03 758.32 591.29 751.37C595.56 744.43 599.82 735.81 604.09 730.04C608.36 724.28 612.62 719.14 616.89 715.5C621.15 711.87 625.42 709.69 629.68 706.78C633.95 703.87 638.22 700.38 642.48 698.05C646.75 695.72 651.01 693.79 655.28 692.23C659.55 690.68 663.81 689.56 668.08 688.36C672.34 687.15 676.61 686.24 680.87 684.96C685.14 683.69 689.41 682.13 693.67 680.6C697.94 679.07 702.2 676.96 706.47 675.75C710.74 674.54 715 673.89 719.27 672.84C723.53 671.8 727.8 671.15 732.06 669.45C736.33 667.75 740.6 663.47 744.86 659.27C749.13 655.08 753.39 653.21 757.66 642.79C758.51 640.71 759.37 634.71 760.22 628.25C761.07 621.78 761.92 609.76 762.78 599.16C764.06 583.27 765.34 558.95 766.62 545.84C767.47 537.1 768.32 528.82 769.18 524.51C769.69 521.93 770.2 518.69 770.71 518.69C772.33 518.69 773.95 523.32 775.58 524.51C778.13 526.39 780.69 526.83 783.25 528.39C785.39 529.69 787.52 531.62 789.65 533.24C791.79 534.85 793.92 536.65 796.05 538.08C798.18 539.52 800.32 540.67 802.45 541.96C804.58 543.25 806.72 544.37 808.85 545.84C813.11 548.78 817.38 553.12 821.65 556.5C825.91 559.89 830.18 561.76 834.44 566.2C838.71 570.64 842.98 580.58 847.24 587.53C851.51 594.47 855.77 601.62 860.04 607.89C864.3 614.15 868.57 620.05 872.84 625.34C877.1 630.63 881.37 635.03 885.63 639.88C889.9 644.73 894.16 650.12 898.43 654.42C902.7 658.73 906.96 661.75 911.23 666.06C915.49 670.37 919.76 676.29 924.03 680.6C928.29 684.91 932.56 688.71 936.82 692.23C941.09 695.76 945.35 698.8 949.62 701.93C953.89 705.06 958.15 708.14 962.42 711.04C966.68 713.95 970.95 716.89 975.22 719.38C979.48 721.87 983.75 723.9 988.01 726.17C992.28 728.43 996.54 730.87 1000.81 732.95C1005.08 735.04 1009.34 736.83 1013.61 738.77C1017.87 740.71 1022.14 742.73 1026.41 744.59C1030.67 746.44 1034.94 748.54 1039.2 749.92C1043.47 751.3 1047.73 752.51 1052 753.31" fill="none" stroke="#000000" stroke-width="1.35" stroke-linejoin="round"/>
<path d="M552.9 796.94C557.17 794.68 561.43 791.65 565.7 788.21C569.96 784.78 574.23 780.7 578.49 775.61C582.76 770.52 587.03 762.84 591.29 756.22C595.56 749.6 599.82 741.52 604.09 735.86C608.36 730.21 612.62 725.2 616.89 721.32C621.15 717.44 625.42 714.5 629.68 711.62C633.95 708.75 638.22 706.08 642.48 703.87C646.75 701.65 651.01 699.6 655.28 698.05C659.55 696.5 663.81 695.28 668.08 694.17C672.34 693.07 676.61 692.37 680.87 691.26C685.14 690.16 689.41 688.68 693.67 687.39C697.94 686.09 702.2 684.37 706.47 683.51C710.74 682.65 715 682.22 719.27 681.57C723.53 680.92 727.8 680.6 732.06 679.63C736.33 678.66 740.6 675.9 744.86 673.81C749.13 671.73 753.39 670.6 757.66 667.03C760.22 664.88 762.78 659.71 765.34 654.42C767.9 649.14 770.46 643.3 773.02 633.1C774.72 626.29 776.43 615.24 778.13 600.13C778.82 594.09 779.5 583.93 780.18 574.92C780.86 565.92 781.55 553.43 782.23 545.84C782.57 542.05 782.91 537.88 783.25 536.14C784.53 529.62 785.81 525.69 787.09 524.51C788.97 522.78 790.85 521.6 792.72 521.6C793.83 521.6 794.94 524.53 796.05 526.45C798.18 530.15 800.32 536.14 802.45 540.99C804.58 545.84 806.72 551.46 808.85 555.53C813.11 563.68 817.38 569.36 821.65 575.89C825.91 582.43 830.18 588.66 834.44 594.8C838.71 600.94 842.98 606.84 847.24 612.74C851.51 618.63 855.77 624.9 860.04 630.19C864.3 635.47 868.57 640.23 872.84 644.73C877.1 649.23 881.37 652.98 885.63 657.33C889.9 661.69 894.16 666.55 898.43 670.91C902.7 675.26 906.96 680.07 911.23 683.51C915.49 686.95 919.76 689.5 924.03 692.23C928.29 694.97 932.56 697.12 936.82 699.99C941.09 702.86 945.35 706.81 949.62 709.69C953.89 712.56 958.15 715.03 962.42 717.44C966.68 719.85 970.95 721.97 975.22 724.23C979.48 726.49 983.75 728.93 988.01 731.01C992.28 733.1 996.54 734.89 1000.81 736.83C1005.08 738.77 1009.34 740.71 1013.61 742.65C1017.87 744.59 1022.14 746.7 1026.41 748.47C1030.67 750.23 1034.94 751.55 1039.2 753.31C1043.47 755.08 1047.73 757.03 1052 759.13" fill="none" stroke="#000000" stroke-width="1.35" stroke-linejoin="round"/>
<path d="M552.9 800.82C557.17 799.04 561.43 796.26 565.7 793.06C569.96 789.86 574.23 785.22 578.49 780.46C582.76 775.7 587.03 770.05 591.29 763.98C595.56 757.91 599.82 749.69 604.09 743.62C608.36 737.55 612.62 731.45 616.89 727.14C621.15 722.82 625.42 719.47 629.68 716.47C633.95 713.48 638.22 710.93 642.48 708.72C646.75 706.5 651.01 703.45 655.28 702.9C659.55 702.35 663.81 702.45 668.08 701.93C672.34 701.41 676.61 699.34 680.87 698.05C685.14 696.76 689.41 695.38 693.67 694.17C697.94 692.97 702.2 691.28 706.47 690.78C710.74 690.28 715 690.13 719.27 689.81C723.53 689.49 727.8 689.41 732.06 688.84C736.33 688.27 740.6 684.07 744.86 681.57C749.13 679.07 753.39 677.64 757.66 673.81C760.22 671.52 762.78 667.42 765.34 662.18C767.9 656.94 770.46 649.14 773.02 637.94C774.89 629.73 776.77 617.74 778.65 600.13C779.29 594.13 779.93 582.69 780.57 574.92C781.46 564.06 782.36 548.39 783.25 544.87C784.53 539.84 785.81 537.93 787.09 536.14C788.37 534.36 789.65 532.27 790.93 532.27C792.64 532.27 794.34 534.44 796.05 536.14C798.18 538.27 800.32 542.31 802.45 545.84C804.58 549.37 806.72 553.67 808.85 557.47C813.11 565.08 817.38 573.05 821.65 579.77C825.91 586.5 830.18 591.75 834.44 598.19C838.71 604.64 842.98 612.48 847.24 618.55C851.51 624.62 855.77 629.71 860.04 635.03C864.3 640.36 868.57 645.97 872.84 650.55C877.1 655.12 881.37 658.66 885.63 662.86C889.9 667.06 894.16 671.61 898.43 675.75C902.7 679.9 906.96 684.08 911.23 687.77C915.49 691.47 919.76 694.73 924.03 698.05C928.29 701.38 932.56 704.87 936.82 707.75C941.09 710.62 945.35 713 949.62 715.5C953.89 718 958.15 720.35 962.42 722.77C966.68 725.2 970.95 728.11 975.22 730.04C979.48 731.98 983.75 733.13 988.01 734.89C992.28 736.66 996.54 738.77 1000.81 740.71C1005.08 742.65 1009.34 744.59 1013.61 746.53C1017.87 748.47 1022.14 750.72 1026.41 752.34C1030.67 753.96 1034.94 754.93 1039.2 756.51C1043.47 758.1 1047.73 759.97 1052 762.04" fill="none" stroke="#000000" stroke-width="1.35" stroke-linejoin="round"/>
<circle cx="552.9" cy="795.97" r="5.3" fill="#f80808"/>
<circle cx="578.49" cy="764.95" r="5.3" fill="#f80808"/>
<circle cx="604.09" cy="726.17" r="5.3" fill="#f80808"/>
<circle cx="629.68" cy="703.87" r="5.3" fill="#f80808"/>
<circle cx="655.28" cy="695.14" r="5.3" fill="#f80808"/>
<circle cx="680.87" cy="684.48" r="5.3" fill="#f80808"/>
<circle cx="706.47" cy="675.75" r="5.3" fill="#f80808"/>
<circle cx="732.06" cy="662.18" r="5.3" fill="#f80808"/>
<circle cx="757.66" cy="656.36" r="5.3" fill="#f80808"/>
<circle cx="783.25" cy="653.94" r="5.3" fill="#f80808"/>
<circle cx="808.85" cy="648.8" r="5.3" fill="#f80808"/>
<circle cx="834.44" cy="640.08" r="5.3" fill="#f80808"/>
<circle cx="860.04" cy="635.03" r="5.3" fill="#f80808"/>
<circle cx="885.63" cy="620.1" r="5.3" fill="#f80808"/>
<circle cx="911.23" cy="607.6" r="5.3" fill="#f80808"/>
<circle cx="936.82" cy="602.65" r="5.3" fill="#f80808"/>
<circle cx="962.42" cy="610.12" r="5.3" fill="#f80808"/>
<circle cx="988.01" cy="615.64" r="5.3" fill="#f80808"/>
<circle cx="1013.61" cy="621.85" r="5.3" fill="#f80808"/>
<circle cx="1039.2" cy="648.8" r="5.3" fill="#f80808"/>
<circle cx="552.9" cy="799.85" r="5.3" fill="#f80808"/>
<circle cx="578.49" cy="768.82" r="5.3" fill="#f80808"/>
<circle cx="604.09" cy="731.98" r="5.3" fill="#f80808"/>
<circle cx="629.68" cy="710.65" r="5.3" fill="#f80808"/>
<circle cx="655.28" cy="699.02" r="5.3" fill="#f80808"/>
<circle cx="680.87" cy="689.33" r="5.3" fill="#f80808"/>
<circle cx="706.47" cy="679.63" r="5.3" fill="#f80808"/>
<circle cx="732.06" cy="667.03" r="5.3" fill="#f80808"/>
<circle cx="757.66" cy="662.18" r="5.3" fill="#f80808"/>
<circle cx="783.25" cy="657.33" r="5.3" fill="#f80808"/>
<circle cx="808.85" cy="652.58" r="5.3" fill="#f80808"/>
<circle cx="834.44" cy="646.38" r="5.3" fill="#f80808"/>
<circle cx="860.04" cy="640.08" r="5.3" fill="#f80808"/>
<circle cx="885.63" cy="627.57" r="5.3" fill="#f80808"/>
<circle cx="911.23" cy="630.09" r="5.3" fill="#f80808"/>
<circle cx="936.82" cy="628.83" r="5.3" fill="#f80808"/>
<circle cx="962.42" cy="628.83" r="5.3" fill="#f80808"/>
<circle cx="988.01" cy="647.64" r="5.3" fill="#f80808"/>
<circle cx="1013.61" cy="673.81" r="5.3" fill="#f80808"/>
<circle cx="1039.2" cy="693.79" r="5.3" fill="#f80808"/>
<circle cx="552.9" cy="802.76" r="5.3" fill="#f80808"/>
<circle cx="578.49" cy="776.58" r="5.3" fill="#f80808"/>
<circle cx="604.09" cy="750.4" r="5.3" fill="#f80808"/>
<circle cx="629.68" cy="722.58" r="5.3" fill="#f80808"/>
<circle cx="655.28" cy="704.84" r="5.3" fill="#f80808"/>
<circle cx="680.87" cy="695.14" r="5.3" fill="#f80808"/>
<circle cx="706.47" cy="686.42" r="5.3" fill="#f80808"/>
<circle cx="732.06" cy="675.75" r="5.3" fill="#f80808"/>
<circle cx="757.66" cy="672.84" r="5.3" fill="#f80808"/>
<circle cx="783.25" cy="675.07" r="5.3" fill="#f80808"/>
<circle cx="808.85" cy="672.55" r="5.3" fill="#f80808"/>
<circle cx="834.44" cy="668.87" r="5.3" fill="#f80808"/>
<circle cx="860.04" cy="660.05" r="5.3" fill="#f80808"/>
<circle cx="885.63" cy="652.58" r="5.3" fill="#f80808"/>
<circle cx="911.23" cy="642.6" r="5.3" fill="#f80808"/>
<circle cx="936.82" cy="633.87" r="5.3" fill="#f80808"/>
<circle cx="962.42" cy="636.39" r="5.3" fill="#f80808"/>
<circle cx="988.01" cy="640.08" r="5.3" fill="#f80808"/>
<circle cx="1013.61" cy="643.86" r="5.3" fill="#f80808"/>
<circle cx="1039.2" cy="666.35" r="5.3" fill="#f80808"/>
<rect x="548.1" y="787.29" width="9.6" height="9.6" fill="#000000"/>
<rect x="573.69" y="766.93" width="9.6" height="9.6" fill="#000000"/>
<rect x="599.29" y="725.25" width="9.6" height="9.6" fill="#000000"/>
<rect x="624.88" y="701.98" width="9.6" height="9.6" fill="#000000"/>
<rect x="650.48" y="687.43" width="9.6" height="9.6" fill="#000000"/>
<rect x="676.07" y="680.16" width="9.6" height="9.6" fill="#000000"/>
<rect x="701.67" y="670.95" width="9.6" height="9.6" fill="#000000"/>
<rect x="727.26" y="664.65" width="9.6" height="9.6" fill="#000000"/>
<rect x="752.86" y="637.99" width="9.6" height="9.6" fill="#000000"/>
<rect x="778.45" y="523.59" width="9.6" height="9.6" fill="#000000"/>
<rect x="804.05" y="541.04" width="9.6" height="9.6" fill="#000000"/>
<rect x="829.64" y="561.4" width="9.6" height="9.6" fill="#000000"/>
<rect x="855.24" y="603.09" width="9.6" height="9.6" fill="#000000"/>
<rect x="880.83" y="635.08" width="9.6" height="9.6" fill="#000000"/>
<rect x="906.43" y="661.26" width="9.6" height="9.6" fill="#000000"/>
<rect x="932.02" y="687.43" width="9.6" height="9.6" fill="#000000"/>
<rect x="957.62" y="706.24" width="9.6" height="9.6" fill="#000000"/>
<rect x="983.21" y="721.37" width="9.6" height="9.6" fill="#000000"/>
<rect x="1008.81" y="733.97" width="9.6" height="9.6" fill="#000000"/>
<rect x="1034.4" y="745.12" width="9.6" height="9.6" fill="#000000"/>
<rect x="548.1" y="792.14" width="9.6" height="9.6" fill="#000000"/>
<rect x="573.69" y="770.81" width="9.6" height="9.6" fill="#000000"/>
<rect x="599.29" y="731.06" width="9.6" height="9.6" fill="#000000"/>
<rect x="624.88" y="706.82" width="9.6" height="9.6" fill="#000000"/>
<rect x="650.48" y="693.25" width="9.6" height="9.6" fill="#000000"/>
<rect x="676.07" y="686.47" width="9.6" height="9.6" fill="#000000"/>
<rect x="701.67" y="678.71" width="9.6" height="9.6" fill="#000000"/>
<rect x="727.26" y="674.83" width="9.6" height="9.6" fill="#000000"/>
<rect x="752.86" y="662.23" width="9.6" height="9.6" fill="#000000"/>
<rect x="778.45" y="531.35" width="9.6" height="9.6" fill="#000000"/>
<rect x="804.05" y="550.74" width="9.6" height="9.6" fill="#000000"/>
<rect x="829.64" y="590" width="9.6" height="9.6" fill="#000000"/>
<rect x="855.24" y="625.39" width="9.6" height="9.6" fill="#000000"/>
<rect x="880.83" y="652.53" width="9.6" height="9.6" fill="#000000"/>
<rect x="906.43" y="678.71" width="9.6" height="9.6" fill="#000000"/>
<rect x="932.02" y="695.19" width="9.6" height="9.6" fill="#000000"/>
<rect x="957.62" y="712.64" width="9.6" height="9.6" fill="#000000"/>
<rect x="983.21" y="726.21" width="9.6" height="9.6" fill="#000000"/>
<rect x="1008.81" y="737.85" width="9.6" height="9.6" fill="#000000"/>
<rect x="1034.4" y="748.51" width="9.6" height="9.6" fill="#000000"/>
<rect x="548.1" y="796.02" width="9.6" height="9.6" fill="#000000"/>
<rect x="573.69" y="775.66" width="9.6" height="9.6" fill="#000000"/>
<rect x="599.29" y="738.82" width="9.6" height="9.6" fill="#000000"/>
<rect x="624.88" y="711.67" width="9.6" height="9.6" fill="#000000"/>
<rect x="650.48" y="698.1" width="9.6" height="9.6" fill="#000000"/>
<rect x="676.07" y="693.25" width="9.6" height="9.6" fill="#000000"/>
<rect x="701.67" y="685.98" width="9.6" height="9.6" fill="#000000"/>
<rect x="727.26" y="684.04" width="9.6" height="9.6" fill="#000000"/>
<rect x="752.86" y="669.01" width="9.6" height="9.6" fill="#000000"/>
<rect x="778.45" y="540.07" width="9.6" height="9.6" fill="#000000"/>
<rect x="804.05" y="552.67" width="9.6" height="9.6" fill="#000000"/>
<rect x="829.64" y="593.39" width="9.6" height="9.6" fill="#000000"/>
<rect x="855.24" y="630.23" width="9.6" height="9.6" fill="#000000"/>
<rect x="880.83" y="658.06" width="9.6" height="9.6" fill="#000000"/>
<rect x="906.43" y="682.97" width="9.6" height="9.6" fill="#000000"/>
<rect x="932.02" y="702.95" width="9.6" height="9.6" fill="#000000"/>
<rect x="957.62" y="717.97" width="9.6" height="9.6" fill="#000000"/>
<rect x="983.21" y="730.09" width="9.6" height="9.6" fill="#000000"/>
<rect x="1008.81" y="741.73" width="9.6" height="9.6" fill="#000000"/>
<rect x="1034.4" y="751.71" width="9.6" height="9.6" fill="#000000"/>
</g>
<path d="M572.1 817.3V812.3M572.1 429.5V434.5M591.29 817.3V807.8M591.29 429.5V439M610.49 817.3V812.3M610.49 429.5V434.5M629.68 817.3V807.8M629.68 429.5V439M648.88 817.3V812.3M648.88 429.5V434.5M668.08 817.3V807.8M668.08 429.5V439M687.27 817.3V812.3M687.27 429.5V434.5M706.47 817.3V807.8M706.47 429.5V439M725.67 817.3V812.3M725.67 429.5V434.5M744.86 817.3V807.8M744.86 429.5V439M764.06 817.3V812.3M764.06 429.5V434.5M783.25 817.3V807.8M783.25 429.5V439M802.45 817.3V812.3M802.45 429.5V434.5M821.65 817.3V807.8M821.65 429.5V439M840.84 817.3V812.3M840.84 429.5V434.5M860.04 817.3V807.8M860.04 429.5V439M879.23 817.3V812.3M879.23 429.5V434.5M898.43 817.3V807.8M898.43 429.5V439M917.63 817.3V812.3M917.63 429.5V434.5M936.82 817.3V807.8M936.82 429.5V439M956.02 817.3V812.3M956.02 429.5V434.5M975.22 817.3V807.8M975.22 429.5V439M994.41 817.3V812.3M994.41 429.5V434.5M1013.61 817.3V807.8M1013.61 429.5V439M1032.8 817.3V812.3M1032.8 429.5V434.5M552.9 768.82H557.9M1052 768.82H1047M552.9 720.35H562.4M1052 720.35H1042.5M552.9 671.88H557.9M1052 671.88H1047M552.9 623.4H562.4M1052 623.4H1042.5M552.9 574.92H557.9M1052 574.92H1047M552.9 526.45H562.4M1052 526.45H1042.5M552.9 477.97H557.9M1052 477.97H1047" stroke="#2a2a2a" stroke-width="1.5" fill="none"/>
<rect x="552.9" y="429.5" width="499.1" height="387.8" fill="none" stroke="#2a2a2a" stroke-width="1.9"/>
<text x="591.29" y="835" text-anchor="middle">300</text>
<text x="629.68" y="835" text-anchor="middle">600</text>
<text x="668.08" y="835" text-anchor="middle">900</text>
<text x="706.47" y="835" text-anchor="middle">1200</text>
<text x="744.86" y="835" text-anchor="middle">1500</text>
<text x="783.25" y="835" text-anchor="middle">1800</text>
<text x="821.65" y="835" text-anchor="middle">2100</text>
<text x="860.04" y="835" text-anchor="middle">2400</text>
<text x="898.43" y="835" text-anchor="middle">2700</text>
<text x="936.82" y="835" text-anchor="middle">3000</text>
<text x="975.22" y="835" text-anchor="middle">3300</text>
<text x="1013.61" y="835" text-anchor="middle">3600</text>
<text x="1052" y="835" text-anchor="middle">3900</text>
<path d="M562.6 452.2H603.5" stroke="#e62828" stroke-width="1.4"/>
<circle cx="582.5" cy="452.2" r="5.6" fill="#f80808"/>
<text x="607.5" y="458.4">20Ah center of the right face</text>
<path d="M562.6 474.7H603.5" stroke="#000000" stroke-width="1.4"/>
<rect x="577.5" y="469.7" width="10" height="10" fill="#000000"/>
<text x="607.5" y="480.9">24Ah center of the right face</text>
<text x="563.3" y="503.5">50% SOC</text>
<clipPath id="cP5"><rect x="54.4" y="850.9" width="498.6" height="387.4"/></clipPath>
<g clip-path="url(#cP5)">
<path d="M54.4 1192.46C57.86 1185.03 61.32 1176.54 64.79 1167.28C68.25 1158.01 71.71 1147.59 75.17 1136.28C78.64 1124.98 82.1 1109.77 85.56 1098.84C89.03 1087.9 92.49 1077.22 95.95 1069.65C99.41 1062.08 102.88 1055.48 106.34 1051.06C109.8 1046.63 113.26 1043.37 116.72 1040.73C120.19 1038.08 123.65 1036.35 127.11 1034.27C130.58 1032.18 134.04 1030.13 137.5 1028.2C140.96 1026.27 144.43 1024.62 147.89 1022.65C151.35 1020.68 154.81 1018.24 158.28 1016.32C161.74 1014.4 165.2 1012.85 168.66 1011.03C172.12 1009.2 175.59 1006.35 179.05 1005.34C182.51 1004.33 185.98 1004.04 189.44 1003.28C192.9 1002.51 196.36 1001.73 199.83 1000.69C203.29 999.66 206.75 998.17 210.21 996.82C213.68 995.47 217.14 994.36 220.6 992.56C224.06 990.76 227.53 987.79 230.99 985.2C234.45 982.6 237.91 979.24 241.38 976.93C244.84 974.63 248.3 972.91 251.76 970.99C255.23 969.08 258.69 967.02 262.15 965.44C265.61 963.86 269.07 962.64 272.54 961.31C276 959.98 279.46 958.73 282.93 957.43C286.39 956.14 289.85 954.83 293.31 953.56C296.78 952.29 300.24 950.7 303.7 949.82C310.62 948.05 317.55 946.64 324.48 945.94C331.4 945.25 338.33 945.28 345.25 944.52C352.18 943.76 359.1 940.64 366.02 938.84C372.95 937.04 379.88 933.99 386.8 933.67C393.72 933.36 400.65 933.43 407.57 933.16C414.5 932.88 421.43 931.82 428.35 931.09C435.27 930.36 442.2 929.47 449.12 928.77C456.05 928.06 462.98 927.53 469.9 926.83C476.82 926.13 483.75 925.18 490.68 924.51C497.6 923.83 504.52 923.32 511.45 922.7C514.22 922.45 516.99 921.92 519.76 921.92C521.14 921.92 522.53 927.57 523.92 930.96C525.3 934.35 526.69 939.19 528.07 942.58C529.46 945.97 530.84 947.95 532.23 951.62C533.96 956.22 535.69 963.9 537.42 969.7C539.15 975.51 540.88 981.68 542.61 986.49C546.08 996.11 549.54 1004.86 553 1011.03" fill="none" stroke="#e62828" stroke-width="1.35" stroke-linejoin="round"/>
<path d="M54.4 1199.56C57.86 1190.31 61.32 1180.83 64.79 1171.15C68.25 1161.47 71.71 1151.76 75.17 1141.45C78.64 1131.14 82.1 1119.93 85.56 1109.17C89.03 1098.41 92.49 1084.95 95.95 1076.88C99.41 1068.81 102.88 1062.68 106.34 1057.51C109.8 1052.35 113.26 1047.83 116.72 1044.6C120.19 1041.37 123.65 1038.92 127.11 1036.85C130.58 1034.79 134.04 1033.6 137.5 1031.69C140.96 1029.77 144.43 1027.38 147.89 1025.23C151.35 1023.08 154.81 1020.93 158.28 1018.77C161.74 1016.62 165.2 1014.23 168.66 1012.32C172.12 1010.4 175.59 1007.84 179.05 1007.15C182.51 1006.46 185.98 1005.86 189.44 1005.86C192.9 1005.86 196.36 1006.62 199.83 1007.8C201.9 1008.51 203.98 1014.5 206.06 1014.9C208.14 1015.29 210.21 1015.54 212.29 1015.54C213.68 1015.54 215.06 1009.72 216.45 1007.15C217.83 1004.59 219.22 1001.1 220.6 1000.05C224.06 997.42 227.53 996.92 230.99 995.53C234.45 994.14 237.91 992.3 241.38 991.66C244.84 991.01 248.3 990.79 251.76 990.36C255.23 989.93 258.69 989.69 262.15 989.07C265.61 988.46 269.07 986.92 272.54 985.84C276 984.77 279.46 983.58 282.93 982.62C289.85 980.68 296.78 978.93 303.7 977.45C310.62 975.97 317.55 975.05 324.48 973.58C331.4 972.1 338.33 969.7 345.25 968.41C352.18 967.12 359.1 966.39 366.02 965.31C372.95 964.24 379.88 962.93 386.8 961.95C393.72 960.98 400.65 959.95 407.57 959.37C414.5 958.8 421.43 958.44 428.35 958.08C435.27 957.73 442.2 957.55 449.12 957.18C456.05 956.81 462.98 956.44 469.9 955.76C476.82 955.07 483.75 952.25 490.68 952.01C497.6 951.78 504.52 951.62 511.45 951.62C518.38 951.62 525.3 951.84 532.23 953.04C533.26 953.23 534.3 958.84 535.34 961.95C537.76 969.22 540.19 978.37 542.61 985.2C546.08 994.96 549.54 1003.86 553 1011.03" fill="none" stroke="#e62828" stroke-width="1.35" stroke-linejoin="round"/>
<path d="M54.4 1199.56C57.86 1191.6 61.32 1182.94 64.79 1173.73C68.25 1164.52 71.71 1153.71 75.17 1144.03C78.64 1134.35 82.1 1124.64 85.56 1115.62C89.03 1106.6 92.49 1097.18 95.95 1089.8C99.41 1082.42 102.88 1075.43 106.34 1070.43C109.8 1065.42 113.26 1060.79 116.72 1058.16C120.19 1055.53 123.65 1053.9 127.11 1052.35C130.58 1050.8 134.04 1050.09 137.5 1048.47C140.96 1046.86 144.43 1044.17 147.89 1042.02C151.35 1039.87 154.81 1037.71 158.28 1035.56C161.74 1033.41 165.2 1031.02 168.66 1029.1C172.12 1027.19 175.59 1026 179.05 1023.94C182.51 1021.87 185.98 1018.26 189.44 1016.19C192.9 1014.12 196.36 1011.71 199.83 1011.03C203.29 1010.34 206.75 1009.73 210.21 1009.73C213.68 1009.73 217.14 1009.73 220.6 1009.73C224.06 1009.73 227.53 1006.29 230.99 1004.57C234.45 1002.85 237.91 1001.13 241.38 999.4C244.84 997.68 248.3 995.84 251.76 994.24C255.23 992.63 258.69 990.97 262.15 989.72C265.61 988.46 269.07 987.66 272.54 986.49C276 985.32 279.46 983.56 282.93 982.62C289.85 980.72 296.78 979.11 303.7 978.35C310.62 977.6 317.55 977.46 324.48 976.8C331.4 976.15 338.33 975.06 345.25 974.09C352.18 973.13 359.1 971.6 366.02 970.99C372.95 970.39 379.88 970.13 386.8 969.7C393.72 969.27 400.65 968.84 407.57 968.41C414.5 967.98 421.43 967.37 428.35 967.12C435.27 966.87 442.2 966.81 449.12 966.6C456.05 966.4 462.98 965.83 469.9 965.83C476.82 965.83 483.75 967.29 490.68 970.22C491.71 970.66 492.75 972.03 493.79 973.58C496.21 977.2 498.64 988.71 501.06 995.53C504.52 1005.27 507.99 1015.42 511.45 1022.65C514.91 1029.88 518.38 1035.32 521.84 1040.73C525.3 1046.14 528.76 1051.23 532.23 1055.45C535.69 1059.67 539.15 1062.98 542.61 1066.55C546.08 1070.12 549.54 1073.57 553 1076.88" fill="none" stroke="#e62828" stroke-width="1.35" stroke-linejoin="round"/>
<path d="M54.4 1212.47C57.86 1196.76 61.32 1181.67 64.79 1167.28C68.25 1152.89 71.71 1137.47 75.17 1125.95C78.64 1114.43 82.1 1104.67 85.56 1096.25C89.03 1087.84 92.49 1081.4 95.95 1074.3C99.41 1067.2 102.88 1059.81 106.34 1053.64C109.8 1047.46 113.26 1042.22 116.72 1036.85C120.19 1031.48 123.65 1025.78 127.11 1021.36C130.58 1016.93 134.04 1013.12 137.5 1009.73C140.96 1006.34 144.43 1002.89 147.89 1000.69C151.35 998.5 154.81 997.44 158.28 995.53C161.74 993.62 165.2 991.58 168.66 989.07C172.12 986.56 175.59 982.79 179.05 980.03C180.78 978.65 182.51 976.16 184.24 976.16C185.98 976.16 187.71 982.62 189.44 982.62C192.9 982.62 196.36 982.62 199.83 982.62C203.29 982.62 206.75 976.36 210.21 973.58C213.68 970.8 217.14 968.93 220.6 965.83C224.06 962.73 227.53 957.6 230.99 954.21C234.45 950.82 237.91 946.98 241.38 945.17C244.84 943.36 248.3 942.33 251.76 941.29C255.23 940.26 258.69 939.86 262.15 938.71C265.61 937.56 269.07 935.27 272.54 933.55C276 931.82 279.46 929.53 282.93 928.38C286.39 927.23 289.85 926.66 293.31 925.8C296.78 924.94 300.24 924.04 303.7 923.21C310.62 921.57 317.55 919.29 324.48 918.57C331.4 917.84 338.33 917.9 345.25 917.15C352.18 916.39 359.1 913.51 366.02 911.59C372.95 909.68 379.88 905.97 386.8 905.65C393.72 905.34 400.65 905.41 407.57 905.14C414.5 904.86 421.43 903.2 428.35 903.2C435.27 903.2 442.2 905.14 449.12 905.14C456.05 905.14 462.98 903.84 469.9 903.84C476.82 903.84 483.75 906.71 490.68 907.72C494.14 908.22 497.6 908.04 501.06 909.01C502.1 909.3 503.14 912.69 504.18 915.47C506.6 921.96 509.03 939.05 511.45 946.98C514.91 958.29 518.38 964.84 521.84 973.58C525.3 982.31 528.76 992.02 532.23 999.4C535.69 1006.78 539.15 1012.78 542.61 1018.77C546.08 1024.77 549.54 1030.4 553 1035.56" fill="none" stroke="#000000" stroke-width="1.35" stroke-linejoin="round"/>
<path d="M54.4 1212.47C57.86 1198.7 61.32 1184.92 64.79 1171.15C68.25 1157.38 71.71 1141.35 75.17 1129.83C78.64 1118.31 82.1 1108.82 85.56 1100.13C89.03 1091.43 92.49 1083.93 95.95 1076.88C99.41 1069.84 102.88 1063.51 106.34 1057.51C109.8 1051.52 113.26 1046.1 116.72 1040.73C120.19 1035.35 123.65 1029.93 127.11 1025.23C130.58 1020.53 134.04 1015.86 137.5 1012.32C140.96 1008.77 144.43 1005.47 147.89 1003.28C151.35 1001.09 154.81 999.83 158.28 998.11C161.74 996.39 165.2 994.86 168.66 992.95C172.12 991.03 175.59 990.47 179.05 986.49C180.68 984.62 182.3 969.7 183.93 969.7C185.39 969.7 186.84 1005.86 188.29 1005.86C188.68 1005.86 189.06 1003.94 189.44 1003.28C192.9 997.26 196.36 994.19 199.83 990.36C203.29 986.54 206.75 982.98 210.21 980.03C213.68 977.08 217.14 975.24 220.6 972.29C224.06 969.33 227.53 965.4 230.99 961.95C234.45 958.51 237.91 954.58 241.38 951.62C244.84 948.67 248.3 945.17 251.76 943.88C255.23 942.58 258.69 942.44 262.15 941.29C265.61 940.15 269.07 937.6 272.54 936.13C276 934.65 279.46 933.29 282.93 932.25C286.39 931.22 289.85 930.25 293.31 929.67C296.78 929.1 300.24 928.89 303.7 928.38C310.62 927.37 317.55 925.54 324.48 924.51C331.4 923.47 338.33 923.15 345.25 921.92C352.18 920.69 359.1 917.08 366.02 915.47C372.95 913.85 379.88 911.96 386.8 911.59C393.72 911.22 400.65 911.23 407.57 910.95C414.5 910.66 421.43 909.66 428.35 909.66C435.27 909.66 442.2 909.66 449.12 909.66C456.05 909.66 462.98 909.01 469.9 909.01C476.82 909.01 483.75 909.12 490.68 909.66C492.03 909.76 493.38 912.81 494.73 915.47C496.32 918.6 497.91 925.84 499.5 930.96C501.58 937.65 503.66 943.99 505.74 950.85C507.64 957.13 509.55 965.72 511.45 970.35C514.91 978.77 518.38 983.22 521.84 989.07C525.3 994.93 528.76 1000.22 532.23 1005.6C535.69 1010.98 539.15 1016.38 542.61 1021.36C546.08 1026.34 549.54 1031.08 553 1035.56" fill="none" stroke="#000000" stroke-width="1.35" stroke-linejoin="round"/>
<path d="M54.4 1212.47C57.86 1199.78 61.32 1186.86 64.79 1173.73C68.25 1160.61 71.71 1145.07 75.17 1133.7C78.64 1122.34 82.1 1112.96 85.56 1104C89.03 1095.04 92.49 1086.68 95.95 1079.47C99.41 1072.25 102.88 1065.84 106.34 1060.1C109.8 1054.36 113.26 1049.97 116.72 1044.6C120.19 1039.23 123.65 1032.57 127.11 1027.81C130.58 1023.06 134.04 1019.01 137.5 1015.42C140.96 1011.82 144.43 1008.43 147.89 1005.86C151.35 1003.29 154.81 1001.02 158.28 999.4C161.74 997.79 165.2 995.53 168.66 995.53C172.12 995.53 175.59 1000.69 179.05 1000.69C182.51 1000.69 185.98 998.97 189.44 998.11C192.9 997.25 196.36 996.87 199.83 995.53C203.29 994.19 206.75 989.27 210.21 986.49C213.68 983.71 217.14 981.84 220.6 978.74C224.06 975.64 227.53 970.77 230.99 967.12C234.45 963.47 237.91 959.74 241.38 956.79C244.84 953.84 248.3 951.11 251.76 949.04C255.23 946.98 258.69 945.6 262.15 943.88C265.61 942.15 269.07 940.32 272.54 938.71C276 937.1 279.46 935.09 282.93 934.19C286.39 933.29 289.85 932.66 293.31 932.25C296.78 931.84 300.24 931.64 303.7 931.35C310.62 930.77 317.55 930.45 324.48 929.67C331.4 928.89 338.33 927.36 345.25 925.8C352.18 924.23 359.1 921.1 366.02 919.86C372.95 918.62 379.88 917.84 386.8 917.15C393.72 916.45 400.65 916.07 407.57 915.47C414.5 914.87 421.43 913.85 428.35 913.53C435.27 913.21 442.2 912.88 449.12 912.88C450.54 912.88 451.96 914.05 453.38 915.47C455.98 918.07 458.58 944.19 461.17 952.92C464.08 962.69 466.99 968.13 469.9 975.26C472.22 980.94 474.54 987.18 476.86 991.66C481.46 1000.53 486.07 1006.62 490.68 1013.35C493.86 1018.01 497.05 1022.38 500.23 1026.52" fill="none" stroke="#000000" stroke-width="1.35" stroke-linejoin="round"/>
<circle cx="54.4" cy="1192.46" r="5.3" fill="#f80808"/>
<circle cx="75.17" cy="1136.28" r="5.3" fill="#f80808"/>
<circle cx="95.95" cy="1069.65" r="5.3" fill="#f80808"/>
<circle cx="116.72" cy="1040.73" r="5.3" fill="#f80808"/>
<circle cx="137.5" cy="1028.2" r="5.3" fill="#f80808"/>
<circle cx="158.28" cy="1016.32" r="5.3" fill="#f80808"/>
<circle cx="179.05" cy="1005.34" r="5.3" fill="#f80808"/>
<circle cx="199.83" cy="1000.69" r="5.3" fill="#f80808"/>
<circle cx="220.6" cy="992.56" r="5.3" fill="#f80808"/>
<circle cx="241.38" cy="976.93" r="5.3" fill="#f80808"/>
<circle cx="262.15" cy="965.44" r="5.3" fill="#f80808"/>
<circle cx="282.93" cy="957.43" r="5.3" fill="#f80808"/>
<circle cx="303.7" cy="949.82" r="5.3" fill="#f80808"/>
<circle cx="324.48" cy="945.94" r="5.3" fill="#f80808"/>
<circle cx="345.25" cy="944.52" r="5.3" fill="#f80808"/>
<circle cx="366.02" cy="938.84" r="5.3" fill="#f80808"/>
<circle cx="386.8" cy="933.67" r="5.3" fill="#f80808"/>
<circle cx="407.57" cy="933.16" r="5.3" fill="#f80808"/>
<circle cx="428.35" cy="931.09" r="5.3" fill="#f80808"/>
<circle cx="449.12" cy="928.77" r="5.3" fill="#f80808"/>
<circle cx="469.9" cy="926.83" r="5.3" fill="#f80808"/>
<circle cx="490.68" cy="924.51" r="5.3" fill="#f80808"/>
<circle cx="511.45" cy="922.7" r="5.3" fill="#f80808"/>
<circle cx="532.23" cy="951.62" r="5.3" fill="#f80808"/>
<circle cx="54.4" cy="1199.56" r="5.3" fill="#f80808"/>
<circle cx="75.17" cy="1141.45" r="5.3" fill="#f80808"/>
<circle cx="95.95" cy="1076.88" r="5.3" fill="#f80808"/>
<circle cx="116.72" cy="1044.6" r="5.3" fill="#f80808"/>
<circle cx="137.5" cy="1031.69" r="5.3" fill="#f80808"/>
<circle cx="158.28" cy="1018.77" r="5.3" fill="#f80808"/>
<circle cx="179.05" cy="1007.15" r="5.3" fill="#f80808"/>
<circle cx="199.83" cy="1007.8" r="5.3" fill="#f80808"/>
<circle cx="220.6" cy="1000.05" r="5.3" fill="#f80808"/>
<circle cx="241.38" cy="991.66" r="5.3" fill="#f80808"/>
<circle cx="262.15" cy="989.07" r="5.3" fill="#f80808"/>
<circle cx="282.93" cy="982.62" r="5.3" fill="#f80808"/>
<circle cx="303.7" cy="977.45" r="5.3" fill="#f80808"/>
<circle cx="324.48" cy="973.58" r="5.3" fill="#f80808"/>
<circle cx="345.25" cy="968.41" r="5.3" fill="#f80808"/>
<circle cx="366.02" cy="965.31" r="5.3" fill="#f80808"/>
<circle cx="386.8" cy="961.95" r="5.3" fill="#f80808"/>
<circle cx="407.57" cy="959.37" r="5.3" fill="#f80808"/>
<circle cx="428.35" cy="958.08" r="5.3" fill="#f80808"/>
<circle cx="449.12" cy="957.18" r="5.3" fill="#f80808"/>
<circle cx="469.9" cy="955.76" r="5.3" fill="#f80808"/>
<circle cx="490.68" cy="952.01" r="5.3" fill="#f80808"/>
<circle cx="511.45" cy="951.62" r="5.3" fill="#f80808"/>
<circle cx="532.23" cy="953.04" r="5.3" fill="#f80808"/>
<circle cx="54.4" cy="1199.56" r="5.3" fill="#f80808"/>
<circle cx="75.17" cy="1144.03" r="5.3" fill="#f80808"/>
<circle cx="95.95" cy="1089.8" r="5.3" fill="#f80808"/>
<circle cx="116.72" cy="1058.16" r="5.3" fill="#f80808"/>
<circle cx="137.5" cy="1048.47" r="5.3" fill="#f80808"/>
<circle cx="158.28" cy="1035.56" r="5.3" fill="#f80808"/>
<circle cx="179.05" cy="1023.94" r="5.3" fill="#f80808"/>
<circle cx="199.83" cy="1011.03" r="5.3" fill="#f80808"/>
<circle cx="220.6" cy="1009.73" r="5.3" fill="#f80808"/>
<circle cx="241.38" cy="999.4" r="5.3" fill="#f80808"/>
<circle cx="262.15" cy="989.72" r="5.3" fill="#f80808"/>
<circle cx="282.93" cy="982.62" r="5.3" fill="#f80808"/>
<circle cx="303.7" cy="978.35" r="5.3" fill="#f80808"/>
<circle cx="324.48" cy="976.8" r="5.3" fill="#f80808"/>
<circle cx="345.25" cy="974.09" r="5.3" fill="#f80808"/>
<circle cx="366.02" cy="970.99" r="5.3" fill="#f80808"/>
<circle cx="386.8" cy="969.7" r="5.3" fill="#f80808"/>
<circle cx="407.57" cy="968.41" r="5.3" fill="#f80808"/>
<circle cx="428.35" cy="967.12" r="5.3" fill="#f80808"/>
<circle cx="449.12" cy="966.6" r="5.3" fill="#f80808"/>
<circle cx="469.9" cy="965.83" r="5.3" fill="#f80808"/>
<circle cx="490.68" cy="970.22" r="5.3" fill="#f80808"/>
<circle cx="511.45" cy="1022.65" r="5.3" fill="#f80808"/>
<circle cx="532.23" cy="1055.45" r="5.3" fill="#f80808"/>
<rect x="49.6" y="1207.67" width="9.6" height="9.6" fill="#000000"/>
<rect x="70.38" y="1121.15" width="9.6" height="9.6" fill="#000000"/>
<rect x="91.15" y="1069.5" width="9.6" height="9.6" fill="#000000"/>
<rect x="111.92" y="1032.05" width="9.6" height="9.6" fill="#000000"/>
<rect x="132.7" y="1004.93" width="9.6" height="9.6" fill="#000000"/>
<rect x="153.47" y="990.73" width="9.6" height="9.6" fill="#000000"/>
<rect x="174.25" y="975.23" width="9.6" height="9.6" fill="#000000"/>
<rect x="195.03" y="977.82" width="9.6" height="9.6" fill="#000000"/>
<rect x="215.8" y="961.03" width="9.6" height="9.6" fill="#000000"/>
<rect x="236.58" y="940.37" width="9.6" height="9.6" fill="#000000"/>
<rect x="257.35" y="933.91" width="9.6" height="9.6" fill="#000000"/>
<rect x="278.12" y="923.58" width="9.6" height="9.6" fill="#000000"/>
<rect x="298.9" y="918.41" width="9.6" height="9.6" fill="#000000"/>
<rect x="319.68" y="913.77" width="9.6" height="9.6" fill="#000000"/>
<rect x="340.45" y="912.35" width="9.6" height="9.6" fill="#000000"/>
<rect x="361.22" y="906.79" width="9.6" height="9.6" fill="#000000"/>
<rect x="382" y="900.85" width="9.6" height="9.6" fill="#000000"/>
<rect x="402.77" y="900.34" width="9.6" height="9.6" fill="#000000"/>
<rect x="423.55" y="898.4" width="9.6" height="9.6" fill="#000000"/>
<rect x="444.32" y="900.34" width="9.6" height="9.6" fill="#000000"/>
<rect x="465.1" y="899.04" width="9.6" height="9.6" fill="#000000"/>
<rect x="485.88" y="902.92" width="9.6" height="9.6" fill="#000000"/>
<rect x="506.65" y="942.18" width="9.6" height="9.6" fill="#000000"/>
<rect x="527.43" y="994.6" width="9.6" height="9.6" fill="#000000"/>
<rect x="49.6" y="1207.67" width="9.6" height="9.6" fill="#000000"/>
<rect x="70.38" y="1125.03" width="9.6" height="9.6" fill="#000000"/>
<rect x="91.15" y="1072.08" width="9.6" height="9.6" fill="#000000"/>
<rect x="111.92" y="1035.93" width="9.6" height="9.6" fill="#000000"/>
<rect x="132.7" y="1007.52" width="9.6" height="9.6" fill="#000000"/>
<rect x="153.47" y="993.31" width="9.6" height="9.6" fill="#000000"/>
<rect x="174.25" y="981.69" width="9.6" height="9.6" fill="#000000"/>
<rect x="195.03" y="985.56" width="9.6" height="9.6" fill="#000000"/>
<rect x="215.8" y="967.49" width="9.6" height="9.6" fill="#000000"/>
<rect x="236.58" y="946.82" width="9.6" height="9.6" fill="#000000"/>
<rect x="257.35" y="936.49" width="9.6" height="9.6" fill="#000000"/>
<rect x="278.12" y="927.45" width="9.6" height="9.6" fill="#000000"/>
<rect x="298.9" y="923.58" width="9.6" height="9.6" fill="#000000"/>
<rect x="319.68" y="919.71" width="9.6" height="9.6" fill="#000000"/>
<rect x="340.45" y="917.12" width="9.6" height="9.6" fill="#000000"/>
<rect x="361.22" y="910.67" width="9.6" height="9.6" fill="#000000"/>
<rect x="382" y="906.79" width="9.6" height="9.6" fill="#000000"/>
<rect x="402.77" y="906.15" width="9.6" height="9.6" fill="#000000"/>
<rect x="423.55" y="904.86" width="9.6" height="9.6" fill="#000000"/>
<rect x="444.32" y="904.86" width="9.6" height="9.6" fill="#000000"/>
<rect x="465.1" y="904.21" width="9.6" height="9.6" fill="#000000"/>
<rect x="485.88" y="904.86" width="9.6" height="9.6" fill="#000000"/>
<rect x="506.65" y="965.55" width="9.6" height="9.6" fill="#000000"/>
<rect x="527.43" y="1000.8" width="9.6" height="9.6" fill="#000000"/>
<rect x="49.6" y="1207.67" width="9.6" height="9.6" fill="#000000"/>
<rect x="70.38" y="1128.9" width="9.6" height="9.6" fill="#000000"/>
<rect x="91.15" y="1074.67" width="9.6" height="9.6" fill="#000000"/>
<rect x="111.92" y="1039.8" width="9.6" height="9.6" fill="#000000"/>
<rect x="132.7" y="1010.62" width="9.6" height="9.6" fill="#000000"/>
<rect x="153.47" y="994.6" width="9.6" height="9.6" fill="#000000"/>
<rect x="174.25" y="995.89" width="9.6" height="9.6" fill="#000000"/>
<rect x="195.03" y="990.73" width="9.6" height="9.6" fill="#000000"/>
<rect x="215.8" y="973.94" width="9.6" height="9.6" fill="#000000"/>
<rect x="236.58" y="951.99" width="9.6" height="9.6" fill="#000000"/>
<rect x="257.35" y="939.08" width="9.6" height="9.6" fill="#000000"/>
<rect x="278.12" y="929.39" width="9.6" height="9.6" fill="#000000"/>
<rect x="298.9" y="926.55" width="9.6" height="9.6" fill="#000000"/>
<rect x="319.68" y="924.87" width="9.6" height="9.6" fill="#000000"/>
<rect x="340.45" y="921" width="9.6" height="9.6" fill="#000000"/>
<rect x="361.22" y="915.06" width="9.6" height="9.6" fill="#000000"/>
<rect x="382" y="912.35" width="9.6" height="9.6" fill="#000000"/>
<rect x="402.77" y="910.67" width="9.6" height="9.6" fill="#000000"/>
<rect x="423.55" y="908.73" width="9.6" height="9.6" fill="#000000"/>
<rect x="444.32" y="908.08" width="9.6" height="9.6" fill="#000000"/>
<rect x="465.1" y="970.46" width="9.6" height="9.6" fill="#000000"/>
<rect x="485.88" y="1008.55" width="9.6" height="9.6" fill="#000000"/>
</g>
<path d="M85.56 1238.3V1233.3M85.56 850.9V855.9M116.72 1238.3V1228.8M116.72 850.9V860.4M147.89 1238.3V1233.3M147.89 850.9V855.9M179.05 1238.3V1228.8M179.05 850.9V860.4M210.21 1238.3V1233.3M210.21 850.9V855.9M241.38 1238.3V1228.8M241.38 850.9V860.4M272.54 1238.3V1233.3M272.54 850.9V855.9M303.7 1238.3V1228.8M303.7 850.9V860.4M334.86 1238.3V1233.3M334.86 850.9V855.9M366.02 1238.3V1228.8M366.02 850.9V860.4M397.19 1238.3V1233.3M397.19 850.9V855.9M428.35 1238.3V1228.8M428.35 850.9V860.4M459.51 1238.3V1233.3M459.51 850.9V855.9M490.68 1238.3V1228.8M490.68 850.9V860.4M521.84 1238.3V1233.3M521.84 850.9V855.9M54.4 1173.73H59.4M553 1173.73H548M54.4 1109.17H63.9M553 1109.17H543.5M54.4 1044.6H59.4M553 1044.6H548M54.4 980.03H63.9M553 980.03H543.5M54.4 915.47H59.4M553 915.47H548" stroke="#2a2a2a" stroke-width="1.5" fill="none"/>
<rect x="54.4" y="850.9" width="498.6" height="387.4" fill="none" stroke="#2a2a2a" stroke-width="1.9"/>
<text x="116.72" y="1256" text-anchor="middle">600</text>
<text x="179.05" y="1256" text-anchor="middle">1200</text>
<text x="241.38" y="1256" text-anchor="middle">1800</text>
<text x="303.7" y="1256" text-anchor="middle">2400</text>
<text x="366.02" y="1256" text-anchor="middle">3000</text>
<text x="428.35" y="1256" text-anchor="middle">3600</text>
<text x="490.68" y="1256" text-anchor="middle">4200</text>
<text x="553" y="1256" text-anchor="middle">4800</text>
<text x="51.9" y="1243.7" text-anchor="end">0</text>
<text x="51.9" y="1114.57" text-anchor="end">100</text>
<text x="51.9" y="985.43" text-anchor="end">200</text>
<text x="51.9" y="856.3" text-anchor="end">300</text>
<text x="0" y="0" text-anchor="middle" style="font-size:18.8px" transform="translate(16 1045.4) rotate(-90)">Temperature/°C</text>
<text x="307.2" y="1275.3" text-anchor="middle">Time/s</text>
<path d="M66.6 872.7H107" stroke="#e62828" stroke-width="1.4"/>
<circle cx="86.6" cy="872.7" r="5.6" fill="#f80808"/>
<text x="112.1" y="878.9">20Ah negative</text>
<path d="M66.6 895.3H107" stroke="#000000" stroke-width="1.4"/>
<rect x="81.6" y="890.3" width="10" height="10" fill="#000000"/>
<text x="112.1" y="901.5">24Ah negative</text>
<text x="67.3" y="923">0% SOC</text>
<clipPath id="cP6"><rect x="552.8" y="850.6" width="498.6" height="387.9"/></clipPath>
<g clip-path="url(#cP6)">
<path d="M552.8 1215.23C556.26 1212.42 559.72 1207.72 563.19 1202.3C566.65 1196.87 570.11 1187.64 573.57 1180.32C577.04 1172.99 580.5 1165.66 583.96 1158.33C587.42 1151.01 590.89 1142.97 594.35 1136.35C597.81 1129.74 601.27 1123.69 604.74 1118.25C608.2 1112.81 611.66 1108.11 615.12 1103.38C618.59 1098.65 622.05 1093.72 625.51 1089.81C628.98 1085.89 632.44 1082.42 635.9 1079.46C639.36 1076.51 642.82 1073.77 646.29 1071.7C649.75 1069.63 653.21 1067.86 656.67 1066.53C660.14 1065.2 663.6 1064.26 667.06 1063.3C670.52 1062.34 673.99 1061.67 677.45 1060.71C680.91 1059.75 684.38 1058.56 687.84 1057.48C691.3 1056.4 694.76 1055.63 698.23 1054.25C701.69 1052.86 705.15 1050.47 708.61 1048.43C712.08 1046.39 715.54 1044.31 719 1041.96C722.46 1039.61 725.92 1036.93 729.39 1034.21C732.85 1031.48 736.31 1027.45 739.77 1025.54C743.24 1023.64 746.7 1022.76 750.16 1021.28C753.62 1019.79 757.09 1017.86 760.55 1016.62C764.01 1015.38 767.48 1014.57 770.94 1013.52C774.4 1012.46 777.86 1011.36 781.33 1010.29C784.79 1009.21 788.25 1008.23 791.71 1007.05C795.17 1005.88 798.64 1004.09 802.1 1003.17C809.02 1001.35 815.95 999.17 822.88 999.17C826.34 999.17 829.8 999.98 833.26 1000.59C836.73 1001.2 840.19 1003.17 843.65 1003.17C847.11 1003.17 850.58 999.51 854.04 998C857.5 996.5 860.96 994.8 864.42 993.99C871.35 992.38 878.28 990.76 885.2 990.76C892.12 990.76 899.05 990.76 905.98 990.76C912.9 990.76 919.83 988.1 926.75 987.53C933.67 986.96 940.6 986.9 947.53 986.37C954.45 985.83 961.38 983.78 968.3 983.78C975.23 983.78 982.15 983.78 989.08 983.78C996 983.78 1002.92 981.19 1009.85 981.19C1012.62 981.19 1015.39 981.42 1018.16 981.84C1019.89 982.1 1021.62 984.66 1023.35 986.37C1025.78 988.75 1028.2 991.17 1030.62 994.77C1034.09 999.91 1037.55 1009.96 1041.01 1017.4C1044.47 1024.83 1047.94 1032.16 1051.4 1039.38" fill="none" stroke="#e62828" stroke-width="1.35" stroke-linejoin="round"/>
<path d="M552.8 1216.52C556.26 1214.15 559.72 1209.85 563.19 1204.88C566.65 1199.92 570.11 1191.5 573.57 1184.19C577.04 1176.89 580.5 1168.68 583.96 1160.92C587.42 1153.16 590.89 1144.43 594.35 1137.65C597.81 1130.86 601.27 1124.85 604.74 1119.54C608.2 1114.23 611.66 1109.95 615.12 1105.32C618.59 1100.69 622.05 1095.66 625.51 1091.74C628.98 1087.83 632.44 1084.36 635.9 1081.4C639.36 1078.45 642.82 1075.71 646.29 1073.64C649.75 1071.57 653.21 1069.8 656.67 1068.47C660.14 1067.14 663.6 1066.2 667.06 1065.24C670.52 1064.28 673.99 1063.61 677.45 1062.65C680.91 1061.69 684.38 1060.5 687.84 1059.42C691.3 1058.34 694.76 1057.51 698.23 1056.19C701.69 1054.86 705.15 1052.74 708.61 1051.02C712.08 1049.29 715.54 1047.76 719 1045.84C722.46 1043.93 725.92 1041.53 729.39 1039.38C732.85 1037.22 736.31 1033.63 739.77 1032.91C743.24 1032.19 746.7 1032.14 750.16 1031.62C753.62 1031.1 757.09 1030.42 760.55 1029.68C764.01 1028.94 767.48 1027.96 770.94 1027.09C774.4 1026.23 777.86 1025.25 781.33 1024.51C784.79 1023.77 788.25 1023.22 791.71 1022.57C795.17 1021.92 798.64 1021.16 802.1 1020.63C809.02 1019.57 815.95 1019.36 822.88 1018.04C829.8 1016.73 836.73 1009.96 843.65 1009.64C850.58 1009.31 857.5 1009.43 864.42 1009.12C871.35 1008.82 878.28 1005.94 885.2 1005.24C892.12 1004.55 899.05 1004.48 905.98 1003.82C912.9 1003.16 919.83 1000.59 926.75 1000.59C933.67 1000.59 940.6 1000.59 947.53 1000.59C954.45 1000.59 961.38 1000.31 968.3 999.94C975.23 999.58 982.15 997.33 989.08 996.32C996 995.32 1002.92 993.74 1009.85 993.74C1016.78 993.74 1023.7 994.01 1030.62 995.03C1032.36 995.28 1034.09 999.84 1035.82 1003.17C1037.55 1006.51 1039.28 1012.11 1041.01 1016.1C1044.47 1024.1 1047.94 1031.62 1051.4 1038.09" fill="none" stroke="#e62828" stroke-width="1.35" stroke-linejoin="round"/>
<path d="M552.8 1217.81C556.26 1215.66 559.72 1211.86 563.19 1207.47C566.65 1203.08 570.11 1196.31 573.57 1189.37C577.04 1182.42 580.5 1173.2 583.96 1164.8C587.42 1156.4 590.89 1146.04 594.35 1138.94C597.81 1131.84 601.27 1126.15 604.74 1120.84C608.2 1115.53 611.66 1111.13 615.12 1106.61C618.59 1102.1 622.05 1097.52 625.51 1093.68C628.98 1089.85 632.44 1086.3 635.9 1083.34C639.36 1080.38 642.82 1077.65 646.29 1075.58C649.75 1073.51 653.21 1071.74 656.67 1070.41C660.14 1069.08 663.6 1068.14 667.06 1067.18C670.52 1066.22 673.99 1065.55 677.45 1064.59C680.91 1063.63 684.38 1062.44 687.84 1061.36C691.3 1060.28 694.76 1059.2 698.23 1058.13C701.69 1057.05 705.15 1056.33 708.61 1054.89C712.08 1053.46 715.54 1050.34 719 1048.43C722.46 1046.51 725.92 1044.73 729.39 1043.26C732.85 1041.78 736.31 1040.67 739.77 1039.38C743.24 1038.09 746.7 1036.91 750.16 1035.5C753.62 1034.09 757.09 1031.92 760.55 1030.84C764.01 1029.77 767.48 1029.23 770.94 1028.39C774.4 1027.55 777.86 1026.54 781.33 1025.8C784.79 1025.06 788.25 1024.58 791.71 1023.86C795.17 1023.14 798.64 1021.99 802.1 1021.41C809.02 1020.24 815.95 1019.56 822.88 1018.82C829.8 1018.08 836.73 1017.62 843.65 1016.88C850.58 1016.14 857.5 1015.06 864.42 1014.29C871.35 1013.53 878.28 1012.5 885.2 1012.23C892.12 1011.95 899.05 1011.91 905.98 1011.71C912.9 1011.5 919.83 1010.93 926.75 1010.93C933.67 1010.93 940.6 1010.93 947.53 1010.93C954.45 1010.93 961.38 1010.29 968.3 1010.29C975.23 1010.29 982.15 1010.29 989.08 1010.29C990.81 1010.29 992.54 1013.74 994.27 1016.1C996 1018.47 997.73 1022.33 999.46 1025.15C1002.92 1030.8 1006.39 1035.63 1009.85 1040.8C1013.31 1045.97 1016.78 1051.61 1020.24 1056.19C1023.7 1060.77 1027.16 1064.74 1030.62 1068.6C1034.09 1072.46 1037.55 1076.36 1041.01 1079.46C1044.47 1082.56 1047.94 1085.34 1051.4 1087.61" fill="none" stroke="#e62828" stroke-width="1.35" stroke-linejoin="round"/>
<path d="M552.8 1210.05C556.26 1207.9 559.72 1204.1 563.19 1199.71C566.65 1195.32 570.11 1188.56 573.57 1181.61C577.04 1174.66 580.5 1165.64 583.96 1157.04C587.42 1148.44 590.89 1137.99 594.35 1129.89C597.81 1121.79 601.27 1114.39 604.74 1107.91C608.2 1101.42 611.66 1095.8 615.12 1090.45C618.59 1085.1 622.05 1079.74 625.51 1075.58C628.98 1071.43 632.44 1067.76 635.9 1064.85C639.36 1061.94 642.82 1059.17 646.29 1057.48C649.75 1055.79 653.21 1054.25 656.67 1053.6C660.14 1052.95 663.6 1052.74 667.06 1052.31C670.52 1051.88 673.99 1051.66 677.45 1051.02C680.91 1050.37 684.38 1048.75 687.84 1047.14C691.3 1045.52 694.76 1042.83 698.23 1040.67C701.69 1038.52 705.15 1036.67 708.61 1034.21C712.08 1031.74 715.54 1028.55 719 1025.54C722.46 1022.53 725.92 1019.47 729.39 1016.1C732.85 1012.74 736.31 1007.8 739.77 1005.24C743.24 1002.68 746.7 1001.21 750.16 999.3C753.62 997.38 757.09 995.16 760.55 993.74C764.01 992.31 767.48 991.47 770.94 990.24C774.4 989.02 777.86 987.4 781.33 986.37C784.79 985.33 788.25 984.68 791.71 983.78C795.17 982.88 798.64 981.72 802.1 980.93C809.02 979.36 815.95 978.23 822.88 977.06C829.8 975.88 836.73 974.92 843.65 973.82C850.58 972.72 857.5 971.44 864.42 970.46C871.35 969.49 878.28 968.61 885.2 967.88C892.12 967.14 899.05 966.6 905.98 965.94C912.9 965.27 919.83 964.46 926.75 963.87C933.67 963.28 940.6 962.98 947.53 962.32C954.45 961.65 961.38 959.47 968.3 959.47C975.23 959.47 982.15 959.47 989.08 959.47C991.85 959.47 994.62 959.8 997.38 960.5C998.77 960.86 1000.16 965.31 1001.54 966.97C1004.31 970.29 1007.08 971.25 1009.85 974.73C1013.31 979.07 1016.78 988.43 1020.24 995.42C1023.7 1002.4 1027.16 1010.76 1030.62 1016.62C1034.09 1022.48 1037.55 1026.99 1041.01 1031.62C1044.47 1036.25 1047.94 1040.58 1051.4 1044.55" fill="none" stroke="#000000" stroke-width="1.35" stroke-linejoin="round"/>
<path d="M552.8 1212.64C556.26 1210.59 559.72 1206.74 563.19 1202.3C566.65 1197.85 570.11 1190.55 573.57 1183.55C577.04 1176.54 580.5 1168.11 583.96 1159.63C587.42 1151.15 590.89 1140.02 594.35 1132.47C597.81 1124.93 601.27 1119.08 604.74 1113.08C608.2 1107.08 611.66 1101.65 615.12 1096.27C618.59 1090.89 622.05 1085.19 625.51 1080.75C628.98 1076.32 632.44 1072.22 635.9 1069.12C639.36 1066.01 642.82 1063.08 646.29 1061.36C649.75 1059.63 653.21 1058.51 656.67 1057.48C660.14 1056.45 663.6 1055.47 667.06 1054.89C670.52 1054.32 673.99 1054.18 677.45 1053.6C680.91 1053.03 684.38 1052.25 687.84 1051.02C691.3 1049.78 694.76 1046.7 698.23 1044.55C701.69 1042.39 705.15 1040.6 708.61 1038.09C712.08 1035.57 715.54 1032.05 719 1029.03C722.46 1026.02 725.92 1023 729.39 1019.98C732.85 1016.97 736.31 1012.74 739.77 1010.93C743.24 1009.12 746.7 1008.09 750.16 1007.05C753.62 1006.02 757.09 1005.62 760.55 1004.47C764.01 1003.32 767.48 1000.77 770.94 999.3C774.4 997.82 777.86 996.28 781.33 995.42C784.79 994.55 788.25 993.99 791.71 993.48C795.17 992.96 798.64 992.61 802.1 992.18C809.02 991.32 815.95 990.17 822.88 989.6C829.8 989.02 836.73 988.99 843.65 988.3C850.58 987.61 857.5 984.28 864.42 983.13C871.35 981.98 878.28 981.29 885.2 980.55C892.12 979.81 899.05 979.12 905.98 978.61C912.9 978.09 919.83 977.31 926.75 977.31C933.67 977.31 940.6 977.31 947.53 977.31C954.45 977.31 961.38 977.31 968.3 977.31C975.23 977.31 982.15 976.02 989.08 976.02C990.81 976.02 992.54 979.83 994.27 982.49C996 985.14 997.73 989.53 999.46 992.83C1002.92 999.42 1006.39 1005.55 1009.85 1011.58C1013.31 1017.6 1016.78 1023.56 1020.24 1029.03C1023.7 1034.51 1027.16 1039.85 1030.62 1044.55C1034.09 1049.25 1037.55 1053.76 1041.01 1057.48C1044.47 1061.2 1047.94 1064.55 1051.4 1067.31" fill="none" stroke="#000000" stroke-width="1.35" stroke-linejoin="round"/>
<path d="M552.8 1214.58C556.26 1212.96 559.72 1209.19 563.19 1204.88C566.65 1200.57 570.11 1192.54 573.57 1185.49C577.04 1178.43 580.5 1170.57 583.96 1162.21C587.42 1153.86 590.89 1142.3 594.35 1135.06C597.81 1127.82 601.27 1122.65 604.74 1116.96C608.2 1111.27 611.66 1106.39 615.12 1100.8C618.59 1095.2 622.05 1088.12 625.51 1083.34C628.98 1078.56 632.44 1074.21 635.9 1071.19C639.36 1068.16 642.82 1065.7 646.29 1063.94C649.75 1062.19 653.21 1060.8 656.67 1059.81C660.14 1058.81 663.6 1058.07 667.06 1057.48C670.52 1056.89 673.99 1056.75 677.45 1056.06C680.91 1055.37 684.38 1053.89 687.84 1052.31C691.3 1050.73 694.76 1047.76 698.23 1045.84C701.69 1043.93 705.15 1042.84 708.61 1040.67C712.08 1038.5 715.54 1034.67 719 1031.88C722.46 1029.08 725.92 1026.79 729.39 1023.86C732.85 1020.94 736.31 1016.22 739.77 1014.16C743.24 1012.11 746.7 1010.87 750.16 1009.64C753.62 1008.41 757.09 1007.9 760.55 1006.54C764.01 1005.18 767.48 1002.15 770.94 1000.59C774.4 999.02 777.86 997.57 781.33 996.71C784.79 995.85 788.25 995.37 791.71 994.77C795.17 994.17 798.64 993.58 802.1 993.09C809.02 992.1 815.95 991.08 822.88 990.5C829.8 989.93 836.73 989.9 843.65 989.21C850.58 988.52 857.5 984.83 864.42 984.04C871.35 983.24 878.28 982.96 885.2 982.49C892.12 982.02 899.05 981.62 905.98 981.19C912.9 980.76 919.83 979.9 926.75 979.9C933.67 979.9 940.6 979.9 947.53 979.9C949.15 979.9 950.78 981.5 952.41 982.49C954.24 983.59 956.08 984.69 957.91 986.37C961.38 989.53 964.84 996.41 968.3 1001.36C971.76 1006.32 975.23 1011.23 978.69 1016.1C982.15 1020.97 985.61 1026.04 989.08 1030.59C992.12 1034.59 995.17 1038.38 998.22 1041.96" fill="none" stroke="#000000" stroke-width="1.35" stroke-linejoin="round"/>
<circle cx="552.8" cy="1215.23" r="5.3" fill="#f80808"/>
<circle cx="573.57" cy="1180.32" r="5.3" fill="#f80808"/>
<circle cx="594.35" cy="1136.35" r="5.3" fill="#f80808"/>
<circle cx="615.12" cy="1103.38" r="5.3" fill="#f80808"/>
<circle cx="635.9" cy="1079.46" r="5.3" fill="#f80808"/>
<circle cx="656.67" cy="1066.53" r="5.3" fill="#f80808"/>
<circle cx="677.45" cy="1060.71" r="5.3" fill="#f80808"/>
<circle cx="698.23" cy="1054.25" r="5.3" fill="#f80808"/>
<circle cx="719" cy="1041.96" r="5.3" fill="#f80808"/>
<circle cx="739.77" cy="1025.54" r="5.3" fill="#f80808"/>
<circle cx="760.55" cy="1016.62" r="5.3" fill="#f80808"/>
<circle cx="781.33" cy="1010.29" r="5.3" fill="#f80808"/>
<circle cx="802.1" cy="1003.17" r="5.3" fill="#f80808"/>
<circle cx="822.88" cy="999.17" r="5.3" fill="#f80808"/>
<circle cx="843.65" cy="1003.17" r="5.3" fill="#f80808"/>
<circle cx="864.42" cy="993.99" r="5.3" fill="#f80808"/>
<circle cx="885.2" cy="990.76" r="5.3" fill="#f80808"/>
<circle cx="905.98" cy="990.76" r="5.3" fill="#f80808"/>
<circle cx="926.75" cy="987.53" r="5.3" fill="#f80808"/>
<circle cx="947.53" cy="986.37" r="5.3" fill="#f80808"/>
<circle cx="968.3" cy="983.78" r="5.3" fill="#f80808"/>
<circle cx="989.08" cy="983.78" r="5.3" fill="#f80808"/>
<circle cx="1009.85" cy="981.19" r="5.3" fill="#f80808"/>
<circle cx="1030.62" cy="994.77" r="5.3" fill="#f80808"/>
<circle cx="552.8" cy="1216.52" r="5.3" fill="#f80808"/>
<circle cx="573.57" cy="1184.19" r="5.3" fill="#f80808"/>
<circle cx="594.35" cy="1137.65" r="5.3" fill="#f80808"/>
<circle cx="615.12" cy="1105.32" r="5.3" fill="#f80808"/>
<circle cx="635.9" cy="1081.4" r="5.3" fill="#f80808"/>
<circle cx="656.67" cy="1068.47" r="5.3" fill="#f80808"/>
<circle cx="677.45" cy="1062.65" r="5.3" fill="#f80808"/>
<circle cx="698.23" cy="1056.19" r="5.3" fill="#f80808"/>
<circle cx="719" cy="1045.84" r="5.3" fill="#f80808"/>
<circle cx="739.77" cy="1032.91" r="5.3" fill="#f80808"/>
<circle cx="760.55" cy="1029.68" r="5.3" fill="#f80808"/>
<circle cx="781.33" cy="1024.51" r="5.3" fill="#f80808"/>
<circle cx="802.1" cy="1020.63" r="5.3" fill="#f80808"/>
<circle cx="822.88" cy="1018.04" r="5.3" fill="#f80808"/>
<circle cx="843.65" cy="1009.64" r="5.3" fill="#f80808"/>
<circle cx="864.42" cy="1009.12" r="5.3" fill="#f80808"/>
<circle cx="885.2" cy="1005.24" r="5.3" fill="#f80808"/>
<circle cx="905.98" cy="1003.82" r="5.3" fill="#f80808"/>
<circle cx="926.75" cy="1000.59" r="5.3" fill="#f80808"/>
<circle cx="947.53" cy="1000.59" r="5.3" fill="#f80808"/>
<circle cx="968.3" cy="999.94" r="5.3" fill="#f80808"/>
<circle cx="989.08" cy="996.32" r="5.3" fill="#f80808"/>
<circle cx="1009.85" cy="993.74" r="5.3" fill="#f80808"/>
<circle cx="1030.62" cy="995.03" r="5.3" fill="#f80808"/>
<circle cx="552.8" cy="1217.81" r="5.3" fill="#f80808"/>
<circle cx="573.57" cy="1189.37" r="5.3" fill="#f80808"/>
<circle cx="594.35" cy="1138.94" r="5.3" fill="#f80808"/>
<circle cx="615.12" cy="1106.61" r="5.3" fill="#f80808"/>
<circle cx="635.9" cy="1083.34" r="5.3" fill="#f80808"/>
<circle cx="656.67" cy="1070.41" r="5.3" fill="#f80808"/>
<circle cx="677.45" cy="1064.59" r="5.3" fill="#f80808"/>
<circle cx="698.23" cy="1058.13" r="5.3" fill="#f80808"/>
<circle cx="719" cy="1048.43" r="5.3" fill="#f80808"/>
<circle cx="739.77" cy="1039.38" r="5.3" fill="#f80808"/>
<circle cx="760.55" cy="1030.84" r="5.3" fill="#f80808"/>
<circle cx="781.33" cy="1025.8" r="5.3" fill="#f80808"/>
<circle cx="802.1" cy="1021.41" r="5.3" fill="#f80808"/>
<circle cx="822.88" cy="1018.82" r="5.3" fill="#f80808"/>
<circle cx="843.65" cy="1016.88" r="5.3" fill="#f80808"/>
<circle cx="864.42" cy="1014.29" r="5.3" fill="#f80808"/>
<circle cx="885.2" cy="1012.23" r="5.3" fill="#f80808"/>
<circle cx="905.98" cy="1011.71" r="5.3" fill="#f80808"/>
<circle cx="926.75" cy="1010.93" r="5.3" fill="#f80808"/>
<circle cx="947.53" cy="1010.93" r="5.3" fill="#f80808"/>
<circle cx="968.3" cy="1010.29" r="5.3" fill="#f80808"/>
<circle cx="989.08" cy="1010.29" r="5.3" fill="#f80808"/>
<circle cx="1009.85" cy="1040.8" r="5.3" fill="#f80808"/>
<circle cx="1030.62" cy="1068.6" r="5.3" fill="#f80808"/>
<rect x="548" y="1205.25" width="9.6" height="9.6" fill="#000000"/>
<rect x="568.77" y="1176.81" width="9.6" height="9.6" fill="#000000"/>
<rect x="589.55" y="1125.09" width="9.6" height="9.6" fill="#000000"/>
<rect x="610.33" y="1085.65" width="9.6" height="9.6" fill="#000000"/>
<rect x="631.1" y="1060.05" width="9.6" height="9.6" fill="#000000"/>
<rect x="651.88" y="1048.8" width="9.6" height="9.6" fill="#000000"/>
<rect x="672.65" y="1046.22" width="9.6" height="9.6" fill="#000000"/>
<rect x="693.43" y="1035.87" width="9.6" height="9.6" fill="#000000"/>
<rect x="714.2" y="1020.74" width="9.6" height="9.6" fill="#000000"/>
<rect x="734.98" y="1000.44" width="9.6" height="9.6" fill="#000000"/>
<rect x="755.75" y="988.94" width="9.6" height="9.6" fill="#000000"/>
<rect x="776.53" y="981.57" width="9.6" height="9.6" fill="#000000"/>
<rect x="797.3" y="976.13" width="9.6" height="9.6" fill="#000000"/>
<rect x="818.08" y="972.26" width="9.6" height="9.6" fill="#000000"/>
<rect x="838.85" y="969.02" width="9.6" height="9.6" fill="#000000"/>
<rect x="859.62" y="965.66" width="9.6" height="9.6" fill="#000000"/>
<rect x="880.4" y="963.08" width="9.6" height="9.6" fill="#000000"/>
<rect x="901.18" y="961.14" width="9.6" height="9.6" fill="#000000"/>
<rect x="921.95" y="959.07" width="9.6" height="9.6" fill="#000000"/>
<rect x="942.73" y="957.52" width="9.6" height="9.6" fill="#000000"/>
<rect x="963.5" y="954.67" width="9.6" height="9.6" fill="#000000"/>
<rect x="984.28" y="954.67" width="9.6" height="9.6" fill="#000000"/>
<rect x="1005.05" y="969.93" width="9.6" height="9.6" fill="#000000"/>
<rect x="1025.83" y="1011.82" width="9.6" height="9.6" fill="#000000"/>
<rect x="548" y="1207.84" width="9.6" height="9.6" fill="#000000"/>
<rect x="568.77" y="1178.75" width="9.6" height="9.6" fill="#000000"/>
<rect x="589.55" y="1127.67" width="9.6" height="9.6" fill="#000000"/>
<rect x="610.33" y="1091.47" width="9.6" height="9.6" fill="#000000"/>
<rect x="631.1" y="1064.32" width="9.6" height="9.6" fill="#000000"/>
<rect x="651.88" y="1052.68" width="9.6" height="9.6" fill="#000000"/>
<rect x="672.65" y="1048.8" width="9.6" height="9.6" fill="#000000"/>
<rect x="693.43" y="1039.75" width="9.6" height="9.6" fill="#000000"/>
<rect x="714.2" y="1024.23" width="9.6" height="9.6" fill="#000000"/>
<rect x="734.98" y="1006.13" width="9.6" height="9.6" fill="#000000"/>
<rect x="755.75" y="999.67" width="9.6" height="9.6" fill="#000000"/>
<rect x="776.53" y="990.62" width="9.6" height="9.6" fill="#000000"/>
<rect x="797.3" y="987.38" width="9.6" height="9.6" fill="#000000"/>
<rect x="818.08" y="984.8" width="9.6" height="9.6" fill="#000000"/>
<rect x="838.85" y="983.5" width="9.6" height="9.6" fill="#000000"/>
<rect x="859.62" y="978.33" width="9.6" height="9.6" fill="#000000"/>
<rect x="880.4" y="975.75" width="9.6" height="9.6" fill="#000000"/>
<rect x="901.18" y="973.81" width="9.6" height="9.6" fill="#000000"/>
<rect x="921.95" y="972.51" width="9.6" height="9.6" fill="#000000"/>
<rect x="942.73" y="972.51" width="9.6" height="9.6" fill="#000000"/>
<rect x="963.5" y="972.51" width="9.6" height="9.6" fill="#000000"/>
<rect x="984.28" y="971.22" width="9.6" height="9.6" fill="#000000"/>
<rect x="1005.05" y="1006.78" width="9.6" height="9.6" fill="#000000"/>
<rect x="1025.83" y="1039.75" width="9.6" height="9.6" fill="#000000"/>
<rect x="548" y="1209.78" width="9.6" height="9.6" fill="#000000"/>
<rect x="568.77" y="1180.69" width="9.6" height="9.6" fill="#000000"/>
<rect x="589.55" y="1130.26" width="9.6" height="9.6" fill="#000000"/>
<rect x="610.33" y="1096" width="9.6" height="9.6" fill="#000000"/>
<rect x="631.1" y="1066.39" width="9.6" height="9.6" fill="#000000"/>
<rect x="651.88" y="1055.01" width="9.6" height="9.6" fill="#000000"/>
<rect x="672.65" y="1051.26" width="9.6" height="9.6" fill="#000000"/>
<rect x="693.43" y="1041.04" width="9.6" height="9.6" fill="#000000"/>
<rect x="714.2" y="1027.08" width="9.6" height="9.6" fill="#000000"/>
<rect x="734.98" y="1009.36" width="9.6" height="9.6" fill="#000000"/>
<rect x="755.75" y="1001.74" width="9.6" height="9.6" fill="#000000"/>
<rect x="776.53" y="991.91" width="9.6" height="9.6" fill="#000000"/>
<rect x="797.3" y="988.29" width="9.6" height="9.6" fill="#000000"/>
<rect x="818.08" y="985.7" width="9.6" height="9.6" fill="#000000"/>
<rect x="838.85" y="984.41" width="9.6" height="9.6" fill="#000000"/>
<rect x="859.62" y="979.24" width="9.6" height="9.6" fill="#000000"/>
<rect x="880.4" y="977.69" width="9.6" height="9.6" fill="#000000"/>
<rect x="901.18" y="976.39" width="9.6" height="9.6" fill="#000000"/>
<rect x="921.95" y="975.1" width="9.6" height="9.6" fill="#000000"/>
<rect x="942.73" y="975.1" width="9.6" height="9.6" fill="#000000"/>
<rect x="963.5" y="996.56" width="9.6" height="9.6" fill="#000000"/>
<rect x="984.28" y="1025.79" width="9.6" height="9.6" fill="#000000"/>
</g>
<path d="M583.96 1238.5V1233.5M583.96 850.6V855.6M615.12 1238.5V1229M615.12 850.6V860.1M646.29 1238.5V1233.5M646.29 850.6V855.6M677.45 1238.5V1229M677.45 850.6V860.1M708.61 1238.5V1233.5M708.61 850.6V855.6M739.77 1238.5V1229M739.77 850.6V860.1M770.94 1238.5V1233.5M770.94 850.6V855.6M802.1 1238.5V1229M802.1 850.6V860.1M833.26 1238.5V1233.5M833.26 850.6V855.6M864.42 1238.5V1229M864.42 850.6V860.1M895.59 1238.5V1233.5M895.59 850.6V855.6M926.75 1238.5V1229M926.75 850.6V860.1M957.91 1238.5V1233.5M957.91 850.6V855.6M989.08 1238.5V1229M989.08 850.6V860.1M1020.24 1238.5V1233.5M1020.24 850.6V855.6M552.8 1173.85H557.8M1051.4 1173.85H1046.4M552.8 1109.2H562.3M1051.4 1109.2H1041.9M552.8 1044.55H557.8M1051.4 1044.55H1046.4M552.8 979.9H562.3M1051.4 979.9H1041.9M552.8 915.25H557.8M1051.4 915.25H1046.4" stroke="#2a2a2a" stroke-width="1.5" fill="none"/>
<rect x="552.8" y="850.6" width="498.6" height="387.9" fill="none" stroke="#2a2a2a" stroke-width="1.9"/>
<text x="615.12" y="1256.2" text-anchor="middle">600</text>
<text x="677.45" y="1256.2" text-anchor="middle">1200</text>
<text x="739.77" y="1256.2" text-anchor="middle">1800</text>
<text x="802.1" y="1256.2" text-anchor="middle">2400</text>
<text x="864.42" y="1256.2" text-anchor="middle">3000</text>
<text x="926.75" y="1256.2" text-anchor="middle">3600</text>
<text x="989.08" y="1256.2" text-anchor="middle">4200</text>
<text x="1051.4" y="1256.2" text-anchor="middle">4800</text>
<text x="805.6" y="1275.3" text-anchor="middle">Time/s</text>
<path d="M563.8 872.8H604.5" stroke="#e62828" stroke-width="1.4"/>
<circle cx="583.5" cy="872.8" r="5.6" fill="#f80808"/>
<text x="608.3" y="879">20Ah center of the right face</text>
<path d="M563.8 894.7H604.5" stroke="#000000" stroke-width="1.4"/>
<rect x="578.5" y="889.7" width="10" height="10" fill="#000000"/>
<text x="608.3" y="900.9">24Ah center of the right face</text>
<text x="563.8" y="923.8">0% SOC</text>
</svg>
</body></html>
